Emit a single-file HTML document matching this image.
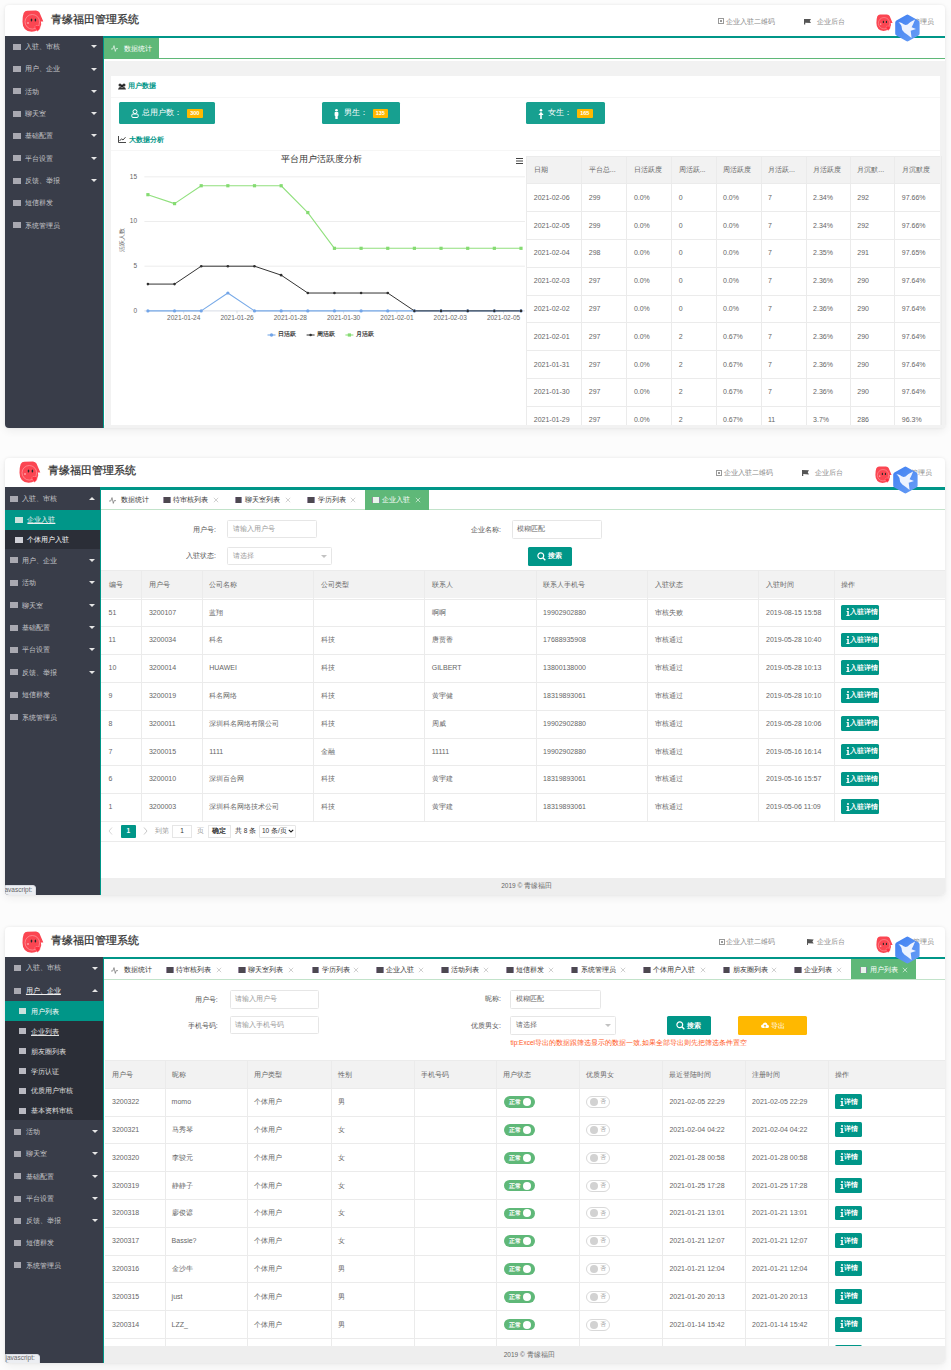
<!DOCTYPE html><html><head><meta charset="utf-8"><style>
html,body{margin:0;padding:0;}
body{width:951px;height:1370px;overflow:hidden;background:#fcfcfc;position:relative;font-family:"Liberation Sans",sans-serif;}
div,svg{position:absolute;box-sizing:border-box;}
.t{white-space:nowrap;}
</style></head><body>
<div style="left:5px;top:5px;width:940px;height:422.8px;background:#fff;border-radius:4px;box-shadow:0 0 3px rgba(0,0,0,.07),0 3px 9px rgba(0,0,0,.06);overflow:hidden">
</div>
<div style="left:5px;top:5px;width:940px;height:422.8px;overflow:hidden;border-radius:4px"><div style="left:-5px;top:-5px;width:951px;height:1370px">
<svg style="position:absolute;left:21.5px;top:9.8px;z-index:5" width="22.0" height="22.5" viewBox="0 0 22.0 22.5"><g transform="scale(1.0)"><path d="M1.7 2.9 Q3 0.8 5.2 0.7 L14 0.5 Q16.5 0.8 17.5 2.5 L21.3 11.4 L18.8 11.4 Q19.5 14 19 15.2 Q17 21.5 9.6 21.8 Q0.5 21 0.5 11.7 Q0.5 6 1.7 2.9 Z" fill="#fb4652"/><circle cx="10.3" cy="11.8" r="7.3" fill="none" stroke="#ff9ea3" stroke-width="0.7"/><ellipse cx="9.5" cy="10.1" rx="0.8" ry="1.5" fill="#2a2a2a"/><ellipse cx="13.4" cy="10.1" rx="0.8" ry="1.5" fill="#2a2a2a"/><circle cx="6" cy="13" r="1" fill="#ff9ea3"/><path d="M12.8 16.8 Q13.8 14.6 15.6 15.6 Q17.5 14.6 18.3 16.8 Q18.5 19 15.6 21.2 Q12.6 19 12.8 16.8 Z" fill="#ff2f40" stroke="#ff9ea3" stroke-width="0.5"/></g></svg>
<div class="t" style="left:51px;top:10.6px;height:17.6px;line-height:17.6px;font-size:11px;color:#333;text-align:left;-webkit-text-stroke:0.25px #333">青缘福田管理系统</div>
<div style="left:718px;top:18.4px;width:6px;height:6px;border:1px solid #999;background:linear-gradient(#999,#999) center/2px 2px no-repeat"></div>
<div class="t" style="left:726px;top:15.8px;height:11.2px;line-height:11.2px;font-size:7px;color:#888;text-align:left;">企业入驻二维码</div>
<div style="left:804px;top:18.599999999999998px;width:7px;height:6px;background:#555;clip-path:polygon(0 0,100% 8%,82% 40%,100% 75%,18% 68%,18% 100%,0 100%)"></div>
<div class="t" style="left:817px;top:15.8px;height:11.2px;line-height:11.2px;font-size:7px;color:#888;text-align:left;">企业后台</div>
<svg style="position:absolute;left:876px;top:14.2px;z-index:5" width="17.2" height="17.6" viewBox="0 0 17.2 17.6"><g transform="scale(0.78)"><path d="M1.7 2.9 Q3 0.8 5.2 0.7 L14 0.5 Q16.5 0.8 17.5 2.5 L21.3 11.4 L18.8 11.4 Q19.5 14 19 15.2 Q17 21.5 9.6 21.8 Q0.5 21 0.5 11.7 Q0.5 6 1.7 2.9 Z" fill="#fb4652"/><circle cx="10.3" cy="11.8" r="7.3" fill="none" stroke="#ff9ea3" stroke-width="0.7"/><ellipse cx="9.5" cy="10.1" rx="0.8" ry="1.5" fill="#2a2a2a"/><ellipse cx="13.4" cy="10.1" rx="0.8" ry="1.5" fill="#2a2a2a"/><circle cx="6" cy="13" r="1" fill="#ff9ea3"/><path d="M12.8 16.8 Q13.8 14.6 15.6 15.6 Q17.5 14.6 18.3 16.8 Q18.5 19 15.6 21.2 Q12.6 19 12.8 16.8 Z" fill="#ff2f40" stroke="#ff9ea3" stroke-width="0.5"/></g></svg>
<div class="t" style="left:634.3px;top:15.8px;width:300px;height:11.2px;line-height:11.2px;font-size:7px;color:#888;text-align:right;">管理员</div>
<svg style="position:absolute;left:894.7px;top:14.2px;z-index:6" width="25.0" height="28.0" viewBox="0 0 25.0 28.0"><defs><linearGradient id="bg" x1="0" y1="0" x2="1" y2="1"><stop offset="0" stop-color="#3f7ff2"/><stop offset="1" stop-color="#6a9ff5"/></linearGradient></defs><g transform="scale(1.0)"><path d="M11.2 0.9 Q12.4 0.2 13.6 0.9 L23.4 6.4 Q24.6 7.1 24.6 8.5 L24.6 19.5 Q24.6 20.9 23.4 21.6 L13.6 27.1 Q12.4 27.8 11.2 27.1 L1.4 21.6 Q0.2 20.9 0.2 19.5 L0.2 8.5 Q0.2 7.1 1.4 6.4 Z" fill="url(#bg)"/><path d="M3.4 8.2 Q5.5 8.3 6.8 9.1 Q8.5 10.5 10.6 11 L12.5 10.4 Q16 7.5 20.1 5.6 Q18.5 10 16.6 13.2 L21 15.1 L15.7 16.7 L16.6 23.9 Q12 20.5 9.3 18.6 Q6.5 16.5 6.8 14.1 Q6.8 11.8 5.6 10.4 Q4.7 9 3.4 8.2 Z" fill="#eef3ff"/></g></svg>
<div style="left:5px;top:35.7px;width:98px;height:400px;background:#393D49"></div>
<div style="left:102.8px;top:35.7px;width:1.3px;height:400px;background:#009688"></div>
<div style="left:104px;top:35.7px;width:841px;height:2.4px;background:#009688"></div>
<div style="left:104px;top:38.1px;width:841px;height:20.8px;background:#fff"></div>
<div style="left:104px;top:57.8px;width:841px;height:1.1px;background:#5FB878"></div>
<div style="left:104px;top:38.1px;width:55px;height:20.8px;background:#5FB878"></div>
<div style="left:105px;top:60.7px;width:840px;height:370px;background:#f2f2f2"></div>
<div style="left:111.2px;top:76px;width:829.3px;height:360px;background:#fff"></div>
<div style="left:12.8px;top:43.7px;width:8px;height:6px;background:#a9a9b1"></div>
<div class="t" style="left:25.1px;top:41.1px;height:11.2px;line-height:11.2px;font-size:7px;color:#c8c8cc;text-align:left;">入驻、审核</div>
<div style="left:91.3px;top:45.2px;width:0;height:0;border-left:3.5px solid transparent;border-right:3.5px solid transparent;border-top:3.5px solid #e6e6e6"></div>
<div style="left:12.8px;top:66.0px;width:8px;height:6px;background:#a9a9b1"></div>
<div class="t" style="left:25.1px;top:63.4px;height:11.2px;line-height:11.2px;font-size:7px;color:#c8c8cc;text-align:left;">用户、企业</div>
<div style="left:91.3px;top:67.5px;width:0;height:0;border-left:3.5px solid transparent;border-right:3.5px solid transparent;border-top:3.5px solid #e6e6e6"></div>
<div style="left:12.8px;top:88.30000000000001px;width:8px;height:6px;background:#a9a9b1"></div>
<div class="t" style="left:25.1px;top:85.7px;height:11.2px;line-height:11.2px;font-size:7px;color:#c8c8cc;text-align:left;">活动</div>
<div style="left:91.3px;top:89.80000000000001px;width:0;height:0;border-left:3.5px solid transparent;border-right:3.5px solid transparent;border-top:3.5px solid #e6e6e6"></div>
<div style="left:12.8px;top:110.60000000000001px;width:8px;height:6px;background:#a9a9b1"></div>
<div class="t" style="left:25.1px;top:108.0px;height:11.2px;line-height:11.2px;font-size:7px;color:#c8c8cc;text-align:left;">聊天室</div>
<div style="left:91.3px;top:112.10000000000001px;width:0;height:0;border-left:3.5px solid transparent;border-right:3.5px solid transparent;border-top:3.5px solid #e6e6e6"></div>
<div style="left:12.8px;top:132.9px;width:8px;height:6px;background:#a9a9b1"></div>
<div class="t" style="left:25.1px;top:130.3px;height:11.2px;line-height:11.2px;font-size:7px;color:#c8c8cc;text-align:left;">基础配置</div>
<div style="left:91.3px;top:134.4px;width:0;height:0;border-left:3.5px solid transparent;border-right:3.5px solid transparent;border-top:3.5px solid #e6e6e6"></div>
<div style="left:12.8px;top:155.2px;width:8px;height:6px;background:#a9a9b1"></div>
<div class="t" style="left:25.1px;top:152.6px;height:11.2px;line-height:11.2px;font-size:7px;color:#c8c8cc;text-align:left;">平台设置</div>
<div style="left:91.3px;top:156.7px;width:0;height:0;border-left:3.5px solid transparent;border-right:3.5px solid transparent;border-top:3.5px solid #e6e6e6"></div>
<div style="left:12.8px;top:177.5px;width:8px;height:6px;background:#a9a9b1"></div>
<div class="t" style="left:25.1px;top:174.9px;height:11.2px;line-height:11.2px;font-size:7px;color:#c8c8cc;text-align:left;">反馈、举报</div>
<div style="left:91.3px;top:179.0px;width:0;height:0;border-left:3.5px solid transparent;border-right:3.5px solid transparent;border-top:3.5px solid #e6e6e6"></div>
<div style="left:12.8px;top:199.8px;width:8px;height:6px;background:#a9a9b1"></div>
<div class="t" style="left:25.1px;top:197.2px;height:11.2px;line-height:11.2px;font-size:7px;color:#c8c8cc;text-align:left;">短信群发</div>
<div style="left:12.8px;top:222.10000000000002px;width:8px;height:6px;background:#a9a9b1"></div>
<div class="t" style="left:25.1px;top:219.5px;height:11.2px;line-height:11.2px;font-size:7px;color:#c8c8cc;text-align:left;">系统管理员</div>
</div></div>
<div style="left:5px;top:5px;width:940px;height:422.8px;overflow:hidden;border-radius:4px"><div style="left:-5px;top:-5px;width:951px;height:1370px">
<svg style="position:absolute;left:117.5px;top:82.5px" width="8" height="7" viewBox="0 0 8 7"><circle cx="2" cy="2" r="1.5" fill="#333"/><circle cx="6" cy="2" r="1.5" fill="#333"/><circle cx="4" cy="3" r="1.6" fill="#222"/><path d="M0 6.5 Q0.5 4 2 4 Q3 4 4 5 Q5 4 6 4 Q7.5 4 8 6.5 Z" fill="#333"/></svg>
<div class="t" style="left:127.5px;top:80.4px;height:11.2px;line-height:11.2px;font-size:7px;color:#009688;text-align:left;font-weight:bold">用户数据</div>
<div style="left:111.2px;top:97px;width:829.3px;height:1px;background:#f6f6f6"></div>
<div style="left:118.8px;top:102.2px;width:96.2px;height:21.6px;background:#17a090;border-radius:1.5px"></div>
<svg style="position:absolute;left:130.5px;top:108.5px" width="8" height="9" viewBox="0 0 8 9"><circle cx="4" cy="2.6" r="2" fill="none" stroke="#fff" stroke-width="1"/><rect x="0.8" y="5" width="6.4" height="3.5" rx="1.2" fill="none" stroke="#fff" stroke-width="1"/></svg>
<div class="t" style="left:142.2px;top:106.8px;height:12.8px;line-height:12.8px;font-size:8px;color:#fff;text-align:left;">总用户数：</div>
<div style="left:187px;top:108.9px;width:15.7px;height:9.4px;background:#FFB800;border-radius:1px"></div>
<div class="t" style="left:44.849999999999994px;top:109.2px;width:300px;height:8.8px;line-height:8.8px;font-size:5.5px;color:#fff;text-align:center;font-weight:bold">300</div>
<div style="left:322.2px;top:102.2px;width:78.30000000000001px;height:21.6px;background:#17a090;border-radius:1.5px"></div>
<svg style="position:absolute;left:334px;top:108.5px" width="5" height="10" viewBox="0 0 5 10"><circle cx="2.5" cy="1.3" r="1.3" fill="#fff"/><rect x="0.6" y="3" width="3.8" height="4" rx="0.8" fill="#fff"/><rect x="1.3" y="6" width="2.4" height="4" fill="#fff"/></svg>
<div class="t" style="left:343.5px;top:106.8px;height:12.8px;line-height:12.8px;font-size:8px;color:#fff;text-align:left;">男生：</div>
<div style="left:372.5px;top:108.9px;width:15.7px;height:9.4px;background:#FFB800;border-radius:1px"></div>
<div class="t" style="left:230.35000000000002px;top:109.2px;width:300px;height:8.8px;line-height:8.8px;font-size:5.5px;color:#fff;text-align:center;font-weight:bold">135</div>
<div style="left:526.3px;top:102.2px;width:78.70000000000005px;height:21.6px;background:#17a090;border-radius:1.5px"></div>
<svg style="position:absolute;left:538px;top:108.5px" width="6" height="10" viewBox="0 0 6 10"><circle cx="3" cy="1.3" r="1.3" fill="#fff"/><path d="M3 2.7 L5.6 6 L3.8 6 L3.8 10 L2.2 10 L2.2 6 L0.4 6 Z" fill="#fff"/></svg>
<div class="t" style="left:548px;top:106.8px;height:12.8px;line-height:12.8px;font-size:8px;color:#fff;text-align:left;">女生：</div>
<div style="left:577px;top:108.9px;width:15.7px;height:9.4px;background:#FFB800;border-radius:1px"></div>
<div class="t" style="left:434.85px;top:109.2px;width:300px;height:8.8px;line-height:8.8px;font-size:5.5px;color:#fff;text-align:center;font-weight:bold">165</div>
<svg style="position:absolute;left:118px;top:135.5px" width="8" height="7" viewBox="0 0 8 7"><path d="M0.5 0 L0.5 6.5 L8 6.5" fill="none" stroke="#333" stroke-width="0.9"/><path d="M1.5 5 L3.5 2.8 L5 4 L7.5 1.2" fill="none" stroke="#333" stroke-width="0.9"/></svg>
<div class="t" style="left:128.5px;top:134.0px;height:11.2px;line-height:11.2px;font-size:7px;color:#009688;text-align:left;font-weight:bold">大数据分析</div>
<div style="left:111.2px;top:149.7px;width:829.3px;height:1px;background:#f6f6f6"></div>
<svg style="position:absolute;left:0;top:0" width="951" height="430" viewBox="0 0 951 430"><line x1="144.4" y1="176.80" x2="525" y2="176.80" stroke="#e8e8e8" stroke-width="0.8"/><line x1="144.4" y1="221.50" x2="525" y2="221.50" stroke="#e8e8e8" stroke-width="0.8"/><line x1="144.4" y1="266.20" x2="525" y2="266.20" stroke="#e8e8e8" stroke-width="0.8"/><line x1="144.4" y1="310.90" x2="525" y2="310.90" stroke="#cdd3e0" stroke-width="0.8"/><line x1="183.7" y1="310.90" x2="183.7" y2="313.40" stroke="#cdd3e0" stroke-width="0.7"/><line x1="237" y1="310.90" x2="237" y2="313.40" stroke="#cdd3e0" stroke-width="0.7"/><line x1="290.3" y1="310.90" x2="290.3" y2="313.40" stroke="#cdd3e0" stroke-width="0.7"/><line x1="343.6" y1="310.90" x2="343.6" y2="313.40" stroke="#cdd3e0" stroke-width="0.7"/><line x1="396.9" y1="310.90" x2="396.9" y2="313.40" stroke="#cdd3e0" stroke-width="0.7"/><line x1="450.2" y1="310.90" x2="450.2" y2="313.40" stroke="#cdd3e0" stroke-width="0.7"/><line x1="503.5" y1="310.90" x2="503.5" y2="313.40" stroke="#cdd3e0" stroke-width="0.7"/><polyline points="147.90,194.68 174.55,203.62 201.20,185.74 227.85,185.74 254.50,185.74 281.15,185.74 307.80,212.56 334.45,248.32 361.10,248.32 387.75,248.32 414.40,248.32 441.05,248.32 467.70,248.32 494.35,248.32 521.00,248.32" fill="none" stroke="#91e07e" stroke-width="1.1" stroke-linejoin="round"/><polyline points="147.90,310.90 174.55,310.90 201.20,310.90 227.85,293.02 254.50,310.90 281.15,310.90 307.80,310.90 334.45,310.90 361.10,310.90 387.75,310.90 414.40,310.90 441.05,310.90 467.70,310.90 494.35,310.90 521.00,310.90" fill="none" stroke="#78aae8" stroke-width="1.1" stroke-linejoin="round"/><polyline points="147.90,284.08 174.55,284.08 201.20,266.20 227.85,266.20 254.50,266.20 281.15,275.14 307.80,293.02 334.45,293.02 361.10,293.02 387.75,293.02 414.40,310.90 441.05,310.90 467.70,310.90 494.35,310.90 521.00,310.90" fill="none" stroke="#333" stroke-width="1.0" stroke-linejoin="round"/><rect x="146.30" y="193.08" width="3.2" height="3.2" fill="#85db72"/><rect x="172.95" y="202.02" width="3.2" height="3.2" fill="#85db72"/><rect x="199.60" y="184.14" width="3.2" height="3.2" fill="#85db72"/><rect x="226.25" y="184.14" width="3.2" height="3.2" fill="#85db72"/><rect x="252.90" y="184.14" width="3.2" height="3.2" fill="#85db72"/><rect x="279.55" y="184.14" width="3.2" height="3.2" fill="#85db72"/><rect x="306.20" y="210.96" width="3.2" height="3.2" fill="#85db72"/><rect x="332.85" y="246.72" width="3.2" height="3.2" fill="#85db72"/><rect x="359.50" y="246.72" width="3.2" height="3.2" fill="#85db72"/><rect x="386.15" y="246.72" width="3.2" height="3.2" fill="#85db72"/><rect x="412.80" y="246.72" width="3.2" height="3.2" fill="#85db72"/><rect x="439.45" y="246.72" width="3.2" height="3.2" fill="#85db72"/><rect x="466.10" y="246.72" width="3.2" height="3.2" fill="#85db72"/><rect x="492.75" y="246.72" width="3.2" height="3.2" fill="#85db72"/><rect x="519.40" y="246.72" width="3.2" height="3.2" fill="#85db72"/><circle cx="147.90" cy="310.90" r="1.6" fill="#73a5e8"/><circle cx="174.55" cy="310.90" r="1.6" fill="#73a5e8"/><circle cx="201.20" cy="310.90" r="1.6" fill="#73a5e8"/><circle cx="227.85" cy="293.02" r="1.6" fill="#73a5e8"/><circle cx="254.50" cy="310.90" r="1.6" fill="#73a5e8"/><circle cx="281.15" cy="310.90" r="1.6" fill="#73a5e8"/><circle cx="307.80" cy="310.90" r="1.6" fill="#73a5e8"/><circle cx="334.45" cy="310.90" r="1.6" fill="#73a5e8"/><circle cx="361.10" cy="310.90" r="1.6" fill="#73a5e8"/><circle cx="387.75" cy="310.90" r="1.6" fill="#73a5e8"/><circle cx="414.40" cy="310.90" r="1.6" fill="#73a5e8"/><circle cx="441.05" cy="310.90" r="1.6" fill="#73a5e8"/><circle cx="467.70" cy="310.90" r="1.6" fill="#73a5e8"/><circle cx="494.35" cy="310.90" r="1.6" fill="#73a5e8"/><circle cx="521.00" cy="310.90" r="1.6" fill="#73a5e8"/><circle cx="147.90" cy="284.08" r="1.3" fill="#2f2f2f"/><circle cx="174.55" cy="284.08" r="1.3" fill="#2f2f2f"/><circle cx="201.20" cy="266.20" r="1.3" fill="#2f2f2f"/><circle cx="227.85" cy="266.20" r="1.3" fill="#2f2f2f"/><circle cx="254.50" cy="266.20" r="1.3" fill="#2f2f2f"/><circle cx="281.15" cy="275.14" r="1.3" fill="#2f2f2f"/><circle cx="307.80" cy="293.02" r="1.3" fill="#2f2f2f"/><circle cx="334.45" cy="293.02" r="1.3" fill="#2f2f2f"/><circle cx="361.10" cy="293.02" r="1.3" fill="#2f2f2f"/><circle cx="387.75" cy="293.02" r="1.3" fill="#2f2f2f"/><circle cx="414.40" cy="310.90" r="1.3" fill="#2f2f2f"/><circle cx="441.05" cy="310.90" r="1.3" fill="#2f2f2f"/><circle cx="467.70" cy="310.90" r="1.3" fill="#2f2f2f"/><circle cx="494.35" cy="310.90" r="1.3" fill="#2f2f2f"/><circle cx="521.00" cy="310.90" r="1.3" fill="#2f2f2f"/><line x1="267.5" y1="335" x2="275.5" y2="335" stroke="#78aae8" stroke-width="1.1"/><circle cx="271.5" cy="335" r="1.7" fill="#73a5e8"/><line x1="306.6" y1="335" x2="314.6" y2="335" stroke="#333" stroke-width="1"/><circle cx="310.6" cy="335" r="1.3" fill="#2f2f2f"/><line x1="345.4" y1="335" x2="353.4" y2="335" stroke="#91e07e" stroke-width="1.1"/><rect x="347.8" y="333.4" width="3.2" height="3.2" fill="#85db72"/><rect x="516" y="158" width="7" height="1" fill="#444"/><rect x="516" y="160.5" width="7" height="1" fill="#444"/><rect x="516" y="163" width="7" height="1" fill="#444"/></svg>
<div class="t" style="left:280.7px;top:152.4px;height:14.4px;line-height:14.4px;font-size:9px;color:#333;text-align:left;">平台用户活跃度分析</div>
<div class="t" style="left:-163px;top:171.6px;width:300px;height:10.4px;line-height:10.4px;font-size:6.5px;color:#666;text-align:right;">15</div>
<div class="t" style="left:-163px;top:216.3px;width:300px;height:10.4px;line-height:10.4px;font-size:6.5px;color:#666;text-align:right;">10</div>
<div class="t" style="left:-163px;top:261.0px;width:300px;height:10.4px;line-height:10.4px;font-size:6.5px;color:#666;text-align:right;">5</div>
<div class="t" style="left:-163px;top:305.7px;width:300px;height:10.4px;line-height:10.4px;font-size:6.5px;color:#666;text-align:right;">0</div>
<div class="t" style="left:33.69999999999999px;top:312.6px;width:300px;height:10.4px;line-height:10.4px;font-size:6.5px;color:#666;text-align:center;">2021-01-24</div>
<div class="t" style="left:87px;top:312.6px;width:300px;height:10.4px;line-height:10.4px;font-size:6.5px;color:#666;text-align:center;">2021-01-26</div>
<div class="t" style="left:140.3px;top:312.6px;width:300px;height:10.4px;line-height:10.4px;font-size:6.5px;color:#666;text-align:center;">2021-01-28</div>
<div class="t" style="left:193.60000000000002px;top:312.6px;width:300px;height:10.4px;line-height:10.4px;font-size:6.5px;color:#666;text-align:center;">2021-01-30</div>
<div class="t" style="left:246.89999999999998px;top:312.6px;width:300px;height:10.4px;line-height:10.4px;font-size:6.5px;color:#666;text-align:center;">2021-02-01</div>
<div class="t" style="left:300.2px;top:312.6px;width:300px;height:10.4px;line-height:10.4px;font-size:6.5px;color:#666;text-align:center;">2021-02-03</div>
<div class="t" style="left:353.5px;top:312.6px;width:300px;height:10.4px;line-height:10.4px;font-size:6.5px;color:#666;text-align:center;">2021-02-05</div>
<div class="t" style="left:278px;top:330.2px;height:9.6px;line-height:9.6px;font-size:6px;color:#333;text-align:left;font-weight:bold">日活跃</div>
<div class="t" style="left:316.5px;top:330.2px;height:9.6px;line-height:9.6px;font-size:6px;color:#333;text-align:left;font-weight:bold">周活跃</div>
<div class="t" style="left:356px;top:330.2px;height:9.6px;line-height:9.6px;font-size:6px;color:#333;text-align:left;font-weight:bold">月活跃</div>
<div class="t" style="left:92px;top:236px;width:60px;height:8px;line-height:8px;font-size:5.5px;color:#666;text-align:center;transform:rotate(-90deg)">活跃人数</div>
<div style="left:526.3px;top:155.6px;width:414.20000000000005px;height:27.8px;background:#f2f2f2"></div>
<div style="left:526.3px;top:155.6px;width:414.20000000000005px;height:1px;background:#ebebeb"></div>
<div style="left:526.3px;top:183.4px;width:414.20000000000005px;height:1px;background:#ebebeb"></div>
<div style="left:526.3px;top:211.2px;width:414.20000000000005px;height:1px;background:#ebebeb"></div>
<div style="left:526.3px;top:239.0px;width:414.20000000000005px;height:1px;background:#ebebeb"></div>
<div style="left:526.3px;top:266.8px;width:414.20000000000005px;height:1px;background:#ebebeb"></div>
<div style="left:526.3px;top:294.6px;width:414.20000000000005px;height:1px;background:#ebebeb"></div>
<div style="left:526.3px;top:322.4px;width:414.20000000000005px;height:1px;background:#ebebeb"></div>
<div style="left:526.3px;top:350.2px;width:414.20000000000005px;height:1px;background:#ebebeb"></div>
<div style="left:526.3px;top:378.0px;width:414.20000000000005px;height:1px;background:#ebebeb"></div>
<div style="left:526.3px;top:405.8px;width:414.20000000000005px;height:1px;background:#ebebeb"></div>
<div style="left:526.3px;top:433.6px;width:414.20000000000005px;height:1px;background:#ebebeb"></div>
<div style="left:526.3px;top:155.6px;width:1px;height:300px;background:#ebebeb"></div>
<div style="left:581.3px;top:155.6px;width:1px;height:300px;background:#ebebeb"></div>
<div style="left:626.4px;top:155.6px;width:1px;height:300px;background:#ebebeb"></div>
<div style="left:671.2px;top:155.6px;width:1px;height:300px;background:#ebebeb"></div>
<div style="left:715.5px;top:155.6px;width:1px;height:300px;background:#ebebeb"></div>
<div style="left:760.5px;top:155.6px;width:1px;height:300px;background:#ebebeb"></div>
<div style="left:805.6px;top:155.6px;width:1px;height:300px;background:#ebebeb"></div>
<div style="left:849.8px;top:155.6px;width:1px;height:300px;background:#ebebeb"></div>
<div style="left:894.3px;top:155.6px;width:1px;height:300px;background:#ebebeb"></div>
<div style="left:940.5px;top:155.6px;width:1px;height:300px;background:#ebebeb"></div>
<div class="t" style="left:533.8px;top:163.9px;height:11.2px;line-height:11.2px;font-size:7px;color:#666;text-align:left;">日期</div>
<div class="t" style="left:588.8px;top:163.9px;height:11.2px;line-height:11.2px;font-size:7px;color:#666;text-align:left;">平台总...</div>
<div class="t" style="left:633.9px;top:163.9px;height:11.2px;line-height:11.2px;font-size:7px;color:#666;text-align:left;">日活跃度</div>
<div class="t" style="left:678.7px;top:163.9px;height:11.2px;line-height:11.2px;font-size:7px;color:#666;text-align:left;">周活跃...</div>
<div class="t" style="left:723.0px;top:163.9px;height:11.2px;line-height:11.2px;font-size:7px;color:#666;text-align:left;">周活跃度</div>
<div class="t" style="left:768.0px;top:163.9px;height:11.2px;line-height:11.2px;font-size:7px;color:#666;text-align:left;">月活跃...</div>
<div class="t" style="left:813.1px;top:163.9px;height:11.2px;line-height:11.2px;font-size:7px;color:#666;text-align:left;">月活跃度</div>
<div class="t" style="left:857.3px;top:163.9px;height:11.2px;line-height:11.2px;font-size:7px;color:#666;text-align:left;">月沉默...</div>
<div class="t" style="left:901.8px;top:163.9px;height:11.2px;line-height:11.2px;font-size:7px;color:#666;text-align:left;">月沉默度</div>
<div class="t" style="left:533.8px;top:191.7px;height:11.2px;line-height:11.2px;font-size:7px;color:#666;text-align:left;">2021-02-06</div>
<div class="t" style="left:588.8px;top:191.7px;height:11.2px;line-height:11.2px;font-size:7px;color:#666;text-align:left;">299</div>
<div class="t" style="left:633.9px;top:191.7px;height:11.2px;line-height:11.2px;font-size:7px;color:#666;text-align:left;">0.0%</div>
<div class="t" style="left:678.7px;top:191.7px;height:11.2px;line-height:11.2px;font-size:7px;color:#666;text-align:left;">0</div>
<div class="t" style="left:723.0px;top:191.7px;height:11.2px;line-height:11.2px;font-size:7px;color:#666;text-align:left;">0.0%</div>
<div class="t" style="left:768.0px;top:191.7px;height:11.2px;line-height:11.2px;font-size:7px;color:#666;text-align:left;">7</div>
<div class="t" style="left:813.1px;top:191.7px;height:11.2px;line-height:11.2px;font-size:7px;color:#666;text-align:left;">2.34%</div>
<div class="t" style="left:857.3px;top:191.7px;height:11.2px;line-height:11.2px;font-size:7px;color:#666;text-align:left;">292</div>
<div class="t" style="left:901.8px;top:191.7px;height:11.2px;line-height:11.2px;font-size:7px;color:#666;text-align:left;">97.66%</div>
<div class="t" style="left:533.8px;top:219.5px;height:11.2px;line-height:11.2px;font-size:7px;color:#666;text-align:left;">2021-02-05</div>
<div class="t" style="left:588.8px;top:219.5px;height:11.2px;line-height:11.2px;font-size:7px;color:#666;text-align:left;">299</div>
<div class="t" style="left:633.9px;top:219.5px;height:11.2px;line-height:11.2px;font-size:7px;color:#666;text-align:left;">0.0%</div>
<div class="t" style="left:678.7px;top:219.5px;height:11.2px;line-height:11.2px;font-size:7px;color:#666;text-align:left;">0</div>
<div class="t" style="left:723.0px;top:219.5px;height:11.2px;line-height:11.2px;font-size:7px;color:#666;text-align:left;">0.0%</div>
<div class="t" style="left:768.0px;top:219.5px;height:11.2px;line-height:11.2px;font-size:7px;color:#666;text-align:left;">7</div>
<div class="t" style="left:813.1px;top:219.5px;height:11.2px;line-height:11.2px;font-size:7px;color:#666;text-align:left;">2.34%</div>
<div class="t" style="left:857.3px;top:219.5px;height:11.2px;line-height:11.2px;font-size:7px;color:#666;text-align:left;">292</div>
<div class="t" style="left:901.8px;top:219.5px;height:11.2px;line-height:11.2px;font-size:7px;color:#666;text-align:left;">97.66%</div>
<div class="t" style="left:533.8px;top:247.3px;height:11.2px;line-height:11.2px;font-size:7px;color:#666;text-align:left;">2021-02-04</div>
<div class="t" style="left:588.8px;top:247.3px;height:11.2px;line-height:11.2px;font-size:7px;color:#666;text-align:left;">298</div>
<div class="t" style="left:633.9px;top:247.3px;height:11.2px;line-height:11.2px;font-size:7px;color:#666;text-align:left;">0.0%</div>
<div class="t" style="left:678.7px;top:247.3px;height:11.2px;line-height:11.2px;font-size:7px;color:#666;text-align:left;">0</div>
<div class="t" style="left:723.0px;top:247.3px;height:11.2px;line-height:11.2px;font-size:7px;color:#666;text-align:left;">0.0%</div>
<div class="t" style="left:768.0px;top:247.3px;height:11.2px;line-height:11.2px;font-size:7px;color:#666;text-align:left;">7</div>
<div class="t" style="left:813.1px;top:247.3px;height:11.2px;line-height:11.2px;font-size:7px;color:#666;text-align:left;">2.35%</div>
<div class="t" style="left:857.3px;top:247.3px;height:11.2px;line-height:11.2px;font-size:7px;color:#666;text-align:left;">291</div>
<div class="t" style="left:901.8px;top:247.3px;height:11.2px;line-height:11.2px;font-size:7px;color:#666;text-align:left;">97.65%</div>
<div class="t" style="left:533.8px;top:275.1px;height:11.2px;line-height:11.2px;font-size:7px;color:#666;text-align:left;">2021-02-03</div>
<div class="t" style="left:588.8px;top:275.1px;height:11.2px;line-height:11.2px;font-size:7px;color:#666;text-align:left;">297</div>
<div class="t" style="left:633.9px;top:275.1px;height:11.2px;line-height:11.2px;font-size:7px;color:#666;text-align:left;">0.0%</div>
<div class="t" style="left:678.7px;top:275.1px;height:11.2px;line-height:11.2px;font-size:7px;color:#666;text-align:left;">0</div>
<div class="t" style="left:723.0px;top:275.1px;height:11.2px;line-height:11.2px;font-size:7px;color:#666;text-align:left;">0.0%</div>
<div class="t" style="left:768.0px;top:275.1px;height:11.2px;line-height:11.2px;font-size:7px;color:#666;text-align:left;">7</div>
<div class="t" style="left:813.1px;top:275.1px;height:11.2px;line-height:11.2px;font-size:7px;color:#666;text-align:left;">2.36%</div>
<div class="t" style="left:857.3px;top:275.1px;height:11.2px;line-height:11.2px;font-size:7px;color:#666;text-align:left;">290</div>
<div class="t" style="left:901.8px;top:275.1px;height:11.2px;line-height:11.2px;font-size:7px;color:#666;text-align:left;">97.64%</div>
<div class="t" style="left:533.8px;top:302.9px;height:11.2px;line-height:11.2px;font-size:7px;color:#666;text-align:left;">2021-02-02</div>
<div class="t" style="left:588.8px;top:302.9px;height:11.2px;line-height:11.2px;font-size:7px;color:#666;text-align:left;">297</div>
<div class="t" style="left:633.9px;top:302.9px;height:11.2px;line-height:11.2px;font-size:7px;color:#666;text-align:left;">0.0%</div>
<div class="t" style="left:678.7px;top:302.9px;height:11.2px;line-height:11.2px;font-size:7px;color:#666;text-align:left;">0</div>
<div class="t" style="left:723.0px;top:302.9px;height:11.2px;line-height:11.2px;font-size:7px;color:#666;text-align:left;">0.0%</div>
<div class="t" style="left:768.0px;top:302.9px;height:11.2px;line-height:11.2px;font-size:7px;color:#666;text-align:left;">7</div>
<div class="t" style="left:813.1px;top:302.9px;height:11.2px;line-height:11.2px;font-size:7px;color:#666;text-align:left;">2.36%</div>
<div class="t" style="left:857.3px;top:302.9px;height:11.2px;line-height:11.2px;font-size:7px;color:#666;text-align:left;">290</div>
<div class="t" style="left:901.8px;top:302.9px;height:11.2px;line-height:11.2px;font-size:7px;color:#666;text-align:left;">97.64%</div>
<div class="t" style="left:533.8px;top:330.7px;height:11.2px;line-height:11.2px;font-size:7px;color:#666;text-align:left;">2021-02-01</div>
<div class="t" style="left:588.8px;top:330.7px;height:11.2px;line-height:11.2px;font-size:7px;color:#666;text-align:left;">297</div>
<div class="t" style="left:633.9px;top:330.7px;height:11.2px;line-height:11.2px;font-size:7px;color:#666;text-align:left;">0.0%</div>
<div class="t" style="left:678.7px;top:330.7px;height:11.2px;line-height:11.2px;font-size:7px;color:#666;text-align:left;">2</div>
<div class="t" style="left:723.0px;top:330.7px;height:11.2px;line-height:11.2px;font-size:7px;color:#666;text-align:left;">0.67%</div>
<div class="t" style="left:768.0px;top:330.7px;height:11.2px;line-height:11.2px;font-size:7px;color:#666;text-align:left;">7</div>
<div class="t" style="left:813.1px;top:330.7px;height:11.2px;line-height:11.2px;font-size:7px;color:#666;text-align:left;">2.36%</div>
<div class="t" style="left:857.3px;top:330.7px;height:11.2px;line-height:11.2px;font-size:7px;color:#666;text-align:left;">290</div>
<div class="t" style="left:901.8px;top:330.7px;height:11.2px;line-height:11.2px;font-size:7px;color:#666;text-align:left;">97.64%</div>
<div class="t" style="left:533.8px;top:358.5px;height:11.2px;line-height:11.2px;font-size:7px;color:#666;text-align:left;">2021-01-31</div>
<div class="t" style="left:588.8px;top:358.5px;height:11.2px;line-height:11.2px;font-size:7px;color:#666;text-align:left;">297</div>
<div class="t" style="left:633.9px;top:358.5px;height:11.2px;line-height:11.2px;font-size:7px;color:#666;text-align:left;">0.0%</div>
<div class="t" style="left:678.7px;top:358.5px;height:11.2px;line-height:11.2px;font-size:7px;color:#666;text-align:left;">2</div>
<div class="t" style="left:723.0px;top:358.5px;height:11.2px;line-height:11.2px;font-size:7px;color:#666;text-align:left;">0.67%</div>
<div class="t" style="left:768.0px;top:358.5px;height:11.2px;line-height:11.2px;font-size:7px;color:#666;text-align:left;">7</div>
<div class="t" style="left:813.1px;top:358.5px;height:11.2px;line-height:11.2px;font-size:7px;color:#666;text-align:left;">2.36%</div>
<div class="t" style="left:857.3px;top:358.5px;height:11.2px;line-height:11.2px;font-size:7px;color:#666;text-align:left;">290</div>
<div class="t" style="left:901.8px;top:358.5px;height:11.2px;line-height:11.2px;font-size:7px;color:#666;text-align:left;">97.64%</div>
<div class="t" style="left:533.8px;top:386.3px;height:11.2px;line-height:11.2px;font-size:7px;color:#666;text-align:left;">2021-01-30</div>
<div class="t" style="left:588.8px;top:386.3px;height:11.2px;line-height:11.2px;font-size:7px;color:#666;text-align:left;">297</div>
<div class="t" style="left:633.9px;top:386.3px;height:11.2px;line-height:11.2px;font-size:7px;color:#666;text-align:left;">0.0%</div>
<div class="t" style="left:678.7px;top:386.3px;height:11.2px;line-height:11.2px;font-size:7px;color:#666;text-align:left;">2</div>
<div class="t" style="left:723.0px;top:386.3px;height:11.2px;line-height:11.2px;font-size:7px;color:#666;text-align:left;">0.67%</div>
<div class="t" style="left:768.0px;top:386.3px;height:11.2px;line-height:11.2px;font-size:7px;color:#666;text-align:left;">7</div>
<div class="t" style="left:813.1px;top:386.3px;height:11.2px;line-height:11.2px;font-size:7px;color:#666;text-align:left;">2.36%</div>
<div class="t" style="left:857.3px;top:386.3px;height:11.2px;line-height:11.2px;font-size:7px;color:#666;text-align:left;">290</div>
<div class="t" style="left:901.8px;top:386.3px;height:11.2px;line-height:11.2px;font-size:7px;color:#666;text-align:left;">97.64%</div>
<div class="t" style="left:533.8px;top:414.1px;height:11.2px;line-height:11.2px;font-size:7px;color:#666;text-align:left;">2021-01-29</div>
<div class="t" style="left:588.8px;top:414.1px;height:11.2px;line-height:11.2px;font-size:7px;color:#666;text-align:left;">297</div>
<div class="t" style="left:633.9px;top:414.1px;height:11.2px;line-height:11.2px;font-size:7px;color:#666;text-align:left;">0.0%</div>
<div class="t" style="left:678.7px;top:414.1px;height:11.2px;line-height:11.2px;font-size:7px;color:#666;text-align:left;">2</div>
<div class="t" style="left:723.0px;top:414.1px;height:11.2px;line-height:11.2px;font-size:7px;color:#666;text-align:left;">0.67%</div>
<div class="t" style="left:768.0px;top:414.1px;height:11.2px;line-height:11.2px;font-size:7px;color:#666;text-align:left;">11</div>
<div class="t" style="left:813.1px;top:414.1px;height:11.2px;line-height:11.2px;font-size:7px;color:#666;text-align:left;">3.7%</div>
<div class="t" style="left:857.3px;top:414.1px;height:11.2px;line-height:11.2px;font-size:7px;color:#666;text-align:left;">286</div>
<div class="t" style="left:901.8px;top:414.1px;height:11.2px;line-height:11.2px;font-size:7px;color:#666;text-align:left;">96.3%</div>
<div style="left:104px;top:425.2px;width:841px;height:10px;background:#f2f2f2"></div>
</div></div>
<div style="left:5px;top:5px;width:940px;height:422.8px;overflow:hidden;border-radius:4px"><div style="left:-5px;top:-5px;width:951px;height:1370px">
<svg style="position:absolute;left:110.8px;top:44.5px" width="7" height="7" viewBox="0 0 7 7"><path d="M0 4 L1.8 4 L3 0.6 L4.3 6.4 L5.2 3.6 L7 3.6" fill="none" stroke="#fff" stroke-width="0.65"/></svg>
<div class="t" style="left:124px;top:43.2px;height:11.2px;line-height:11.2px;font-size:7px;color:#fff;text-align:left;">数据统计</div>
</div></div>
<div style="left:5px;top:457.7px;width:940px;height:437.1px;background:#fff;border-radius:4px;box-shadow:0 0 3px rgba(0,0,0,.07),0 3px 9px rgba(0,0,0,.06);overflow:hidden">
</div>
<div style="left:5px;top:457.7px;width:940px;height:437.1px;overflow:hidden;border-radius:4px"><div style="left:-5px;top:-457.7px;width:951px;height:1370px">
<svg style="position:absolute;left:19px;top:461.2px;z-index:5" width="22.0" height="22.5" viewBox="0 0 22.0 22.5"><g transform="scale(1.0)"><path d="M1.7 2.9 Q3 0.8 5.2 0.7 L14 0.5 Q16.5 0.8 17.5 2.5 L21.3 11.4 L18.8 11.4 Q19.5 14 19 15.2 Q17 21.5 9.6 21.8 Q0.5 21 0.5 11.7 Q0.5 6 1.7 2.9 Z" fill="#fb4652"/><circle cx="10.3" cy="11.8" r="7.3" fill="none" stroke="#ff9ea3" stroke-width="0.7"/><ellipse cx="9.5" cy="10.1" rx="0.8" ry="1.5" fill="#2a2a2a"/><ellipse cx="13.4" cy="10.1" rx="0.8" ry="1.5" fill="#2a2a2a"/><circle cx="6" cy="13" r="1" fill="#ff9ea3"/><path d="M12.8 16.8 Q13.8 14.6 15.6 15.6 Q17.5 14.6 18.3 16.8 Q18.5 19 15.6 21.2 Q12.6 19 12.8 16.8 Z" fill="#ff2f40" stroke="#ff9ea3" stroke-width="0.5"/></g></svg>
<div class="t" style="left:47.7px;top:462.3px;height:17.6px;line-height:17.6px;font-size:11px;color:#333;text-align:left;-webkit-text-stroke:0.25px #333">青缘福田管理系统</div>
<div style="left:715.8px;top:469.7px;width:6px;height:6px;border:1px solid #999;background:linear-gradient(#999,#999) center/2px 2px no-repeat"></div>
<div class="t" style="left:723.8px;top:467.1px;height:11.2px;line-height:11.2px;font-size:7px;color:#888;text-align:left;">企业入驻二维码</div>
<div style="left:802px;top:469.9px;width:7px;height:6px;background:#555;clip-path:polygon(0 0,100% 8%,82% 40%,100% 75%,18% 68%,18% 100%,0 100%)"></div>
<div class="t" style="left:814.8px;top:467.1px;height:11.2px;line-height:11.2px;font-size:7px;color:#888;text-align:left;">企业后台</div>
<svg style="position:absolute;left:874.7px;top:465.6px;z-index:5" width="17.2" height="17.6" viewBox="0 0 17.2 17.6"><g transform="scale(0.78)"><path d="M1.7 2.9 Q3 0.8 5.2 0.7 L14 0.5 Q16.5 0.8 17.5 2.5 L21.3 11.4 L18.8 11.4 Q19.5 14 19 15.2 Q17 21.5 9.6 21.8 Q0.5 21 0.5 11.7 Q0.5 6 1.7 2.9 Z" fill="#fb4652"/><circle cx="10.3" cy="11.8" r="7.3" fill="none" stroke="#ff9ea3" stroke-width="0.7"/><ellipse cx="9.5" cy="10.1" rx="0.8" ry="1.5" fill="#2a2a2a"/><ellipse cx="13.4" cy="10.1" rx="0.8" ry="1.5" fill="#2a2a2a"/><circle cx="6" cy="13" r="1" fill="#ff9ea3"/><path d="M12.8 16.8 Q13.8 14.6 15.6 15.6 Q17.5 14.6 18.3 16.8 Q18.5 19 15.6 21.2 Q12.6 19 12.8 16.8 Z" fill="#ff2f40" stroke="#ff9ea3" stroke-width="0.5"/></g></svg>
<div class="t" style="left:632.2px;top:467.1px;width:300px;height:11.2px;line-height:11.2px;font-size:7px;color:#888;text-align:right;">管理员</div>
<svg style="position:absolute;left:892.6px;top:466px;z-index:6" width="25.0" height="28.0" viewBox="0 0 25.0 28.0"><defs><linearGradient id="bg" x1="0" y1="0" x2="1" y2="1"><stop offset="0" stop-color="#3f7ff2"/><stop offset="1" stop-color="#6a9ff5"/></linearGradient></defs><g transform="scale(1.0)"><path d="M11.2 0.9 Q12.4 0.2 13.6 0.9 L23.4 6.4 Q24.6 7.1 24.6 8.5 L24.6 19.5 Q24.6 20.9 23.4 21.6 L13.6 27.1 Q12.4 27.8 11.2 27.1 L1.4 21.6 Q0.2 20.9 0.2 19.5 L0.2 8.5 Q0.2 7.1 1.4 6.4 Z" fill="url(#bg)"/><path d="M3.4 8.2 Q5.5 8.3 6.8 9.1 Q8.5 10.5 10.6 11 L12.5 10.4 Q16 7.5 20.1 5.6 Q18.5 10 16.6 13.2 L21 15.1 L15.7 16.7 L16.6 23.9 Q12 20.5 9.3 18.6 Q6.5 16.5 6.8 14.1 Q6.8 11.8 5.6 10.4 Q4.7 9 3.4 8.2 Z" fill="#eef3ff"/></g></svg>
<div style="left:5px;top:487.2px;width:95px;height:420px;background:#393D49"></div>
<div style="left:100px;top:487.2px;width:1.1px;height:420px;background:#009688"></div>
<div style="left:101px;top:487.2px;width:844px;height:2.4px;background:#009688"></div>
<div style="left:101px;top:509.3px;width:844px;height:0.9px;background:#c2e3ca"></div>
<div style="left:5px;top:509.6px;width:95px;height:20.1px;background:#009688"></div>
<div style="left:5px;top:529.7px;width:95px;height:19.5px;background:#2b2e37"></div>
<div style="left:10px;top:495.7px;width:7.7px;height:6px;background:#a9a9b1"></div>
<div class="t" style="left:21.9px;top:493.1px;height:11.2px;line-height:11.2px;font-size:7px;color:#c8c8cc;text-align:left;">入驻、审核</div>
<div style="left:88.6px;top:496.7px;width:0;height:0;border-left:3.5px solid transparent;border-right:3.5px solid transparent;border-bottom:3.5px solid #e6e6e6"></div>
<div style="left:15.1px;top:516.7px;width:7.7px;height:6px;background:#c9e2dd"></div>
<div class="t" style="left:27.4px;top:514.1px;height:11.2px;line-height:11.2px;font-size:7px;color:#f0f0f0;text-align:left;text-decoration:underline;text-decoration-thickness:0.5px;text-underline-offset:1px">企业入驻</div>
<div style="left:15.1px;top:537.0px;width:7.7px;height:6px;background:#cfcfd6"></div>
<div class="t" style="left:27.4px;top:534.4px;height:11.2px;line-height:11.2px;font-size:7px;color:#fff;text-align:left;">个体用户入驻</div>
<div style="left:10px;top:557.3px;width:7.7px;height:6px;background:#a9a9b1"></div>
<div class="t" style="left:21.9px;top:554.7px;height:11.2px;line-height:11.2px;font-size:7px;color:#c8c8cc;text-align:left;">用户、企业</div>
<div style="left:88.6px;top:558.8px;width:0;height:0;border-left:3.5px solid transparent;border-right:3.5px solid transparent;border-top:3.5px solid #e6e6e6"></div>
<div style="left:10px;top:579.6999999999999px;width:7.7px;height:6px;background:#a9a9b1"></div>
<div class="t" style="left:21.9px;top:577.1px;height:11.2px;line-height:11.2px;font-size:7px;color:#c8c8cc;text-align:left;">活动</div>
<div style="left:88.6px;top:581.1999999999999px;width:0;height:0;border-left:3.5px solid transparent;border-right:3.5px solid transparent;border-top:3.5px solid #e6e6e6"></div>
<div style="left:10px;top:602.0999999999999px;width:7.7px;height:6px;background:#a9a9b1"></div>
<div class="t" style="left:21.9px;top:599.5px;height:11.2px;line-height:11.2px;font-size:7px;color:#c8c8cc;text-align:left;">聊天室</div>
<div style="left:88.6px;top:603.5999999999999px;width:0;height:0;border-left:3.5px solid transparent;border-right:3.5px solid transparent;border-top:3.5px solid #e6e6e6"></div>
<div style="left:10px;top:624.5px;width:7.7px;height:6px;background:#a9a9b1"></div>
<div class="t" style="left:21.9px;top:621.9px;height:11.2px;line-height:11.2px;font-size:7px;color:#c8c8cc;text-align:left;">基础配置</div>
<div style="left:88.6px;top:626.0px;width:0;height:0;border-left:3.5px solid transparent;border-right:3.5px solid transparent;border-top:3.5px solid #e6e6e6"></div>
<div style="left:10px;top:646.9px;width:7.7px;height:6px;background:#a9a9b1"></div>
<div class="t" style="left:21.9px;top:644.3px;height:11.2px;line-height:11.2px;font-size:7px;color:#c8c8cc;text-align:left;">平台设置</div>
<div style="left:88.6px;top:648.4px;width:0;height:0;border-left:3.5px solid transparent;border-right:3.5px solid transparent;border-top:3.5px solid #e6e6e6"></div>
<div style="left:10px;top:669.3px;width:7.7px;height:6px;background:#a9a9b1"></div>
<div class="t" style="left:21.9px;top:666.7px;height:11.2px;line-height:11.2px;font-size:7px;color:#c8c8cc;text-align:left;">反馈、举报</div>
<div style="left:88.6px;top:670.8px;width:0;height:0;border-left:3.5px solid transparent;border-right:3.5px solid transparent;border-top:3.5px solid #e6e6e6"></div>
<div style="left:10px;top:691.6999999999999px;width:7.7px;height:6px;background:#a9a9b1"></div>
<div class="t" style="left:21.9px;top:689.1px;height:11.2px;line-height:11.2px;font-size:7px;color:#c8c8cc;text-align:left;">短信群发</div>
<div style="left:10px;top:714.0999999999999px;width:7.7px;height:6px;background:#a9a9b1"></div>
<div class="t" style="left:21.9px;top:711.5px;height:11.2px;line-height:11.2px;font-size:7px;color:#c8c8cc;text-align:left;">系统管理员</div>
<svg style="position:absolute;left:108.8px;top:496.5px" width="7" height="7" viewBox="0 0 7 7"><path d="M0 4 L1.8 4 L3 0.6 L4.3 6.4 L5.2 3.6 L7 3.6" fill="none" stroke="#666" stroke-width="0.65"/></svg>
<div class="t" style="left:120.7px;top:494.4px;height:11.2px;line-height:11.2px;font-size:7px;color:#333;text-align:left;">数据统计</div>
<div style="left:163.3px;top:497.0px;width:7.6px;height:6px;background:#4d4850;border-left:1px solid #9a8aa0;border-right:1px solid #8a8aa8"></div>
<div class="t" style="left:173.2px;top:494.4px;height:11.2px;line-height:11.2px;font-size:7px;color:#333;text-align:left;">待审核列表</div>
<svg style="position:absolute;left:213.3px;top:497px" width="6" height="6" viewBox="0 0 6 6"><path d="M0.8 0.8 L5.2 5.2 M5.2 0.8 L0.8 5.2" stroke="#bbb" stroke-width="0.7"/></svg>
<div style="left:234.8px;top:497.0px;width:7.6px;height:6px;background:#4d4850;border-left:1px solid #9a8aa0;border-right:1px solid #8a8aa8"></div>
<div class="t" style="left:245px;top:494.4px;height:11.2px;line-height:11.2px;font-size:7px;color:#333;text-align:left;">聊天室列表</div>
<svg style="position:absolute;left:285.4px;top:497px" width="6" height="6" viewBox="0 0 6 6"><path d="M0.8 0.8 L5.2 5.2 M5.2 0.8 L0.8 5.2" stroke="#bbb" stroke-width="0.7"/></svg>
<div style="left:307.3px;top:497.0px;width:7.6px;height:6px;background:#4d4850;border-left:1px solid #9a8aa0;border-right:1px solid #8a8aa8"></div>
<div class="t" style="left:317.5px;top:494.4px;height:11.2px;line-height:11.2px;font-size:7px;color:#333;text-align:left;">学历列表</div>
<svg style="position:absolute;left:350px;top:497px" width="6" height="6" viewBox="0 0 6 6"><path d="M0.8 0.8 L5.2 5.2 M5.2 0.8 L0.8 5.2" stroke="#bbb" stroke-width="0.7"/></svg>
<div style="left:365px;top:489.6px;width:64px;height:20.6px;background:#5FB878"></div>
<div style="left:372px;top:497.0px;width:7.6px;height:6px;background:#e8f5ec;border-left:1px solid #9a8aa0;border-right:1px solid #8a8aa8"></div>
<div class="t" style="left:382px;top:494.4px;height:11.2px;line-height:11.2px;font-size:7px;color:#fff;text-align:left;">企业入驻</div>
<svg style="position:absolute;left:415px;top:497px" width="6" height="6" viewBox="0 0 6 6"><path d="M0.8 0.8 L5.2 5.2 M5.2 0.8 L0.8 5.2" stroke="#e0f0e4" stroke-width="0.7"/></svg>
<div class="t" style="left:-84px;top:523.9px;width:300px;height:11.2px;line-height:11.2px;font-size:7px;color:#555;text-align:right;">用户号:</div>
<div style="left:226.8px;top:520.4px;width:90.2px;height:17.8px;background:#fff;border:1px solid #e6e6e6;border-radius:1.5px"></div>
<div class="t" style="left:232.5px;top:524.3px;height:10.4px;line-height:10.4px;font-size:6.5px;color:#999;text-align:left;">请输入用户号</div>
<div class="t" style="left:-84px;top:550.4px;width:300px;height:11.2px;line-height:11.2px;font-size:7px;color:#555;text-align:right;">入驻状态:</div>
<div style="left:226.8px;top:546.5px;width:104.8px;height:18.5px;background:#fff;border:1px solid #e6e6e6;border-radius:1.5px"></div>
<div class="t" style="left:232.5px;top:550.8px;height:10.4px;line-height:10.4px;font-size:6.5px;color:#999;text-align:left;">请选择</div>
<div style="left:320.5px;top:554.5px;width:0;height:0;border-left:3px solid transparent;border-right:3px solid transparent;border-top:3px solid #c2c2c2"></div>
<div class="t" style="left:201px;top:523.9px;width:300px;height:11.2px;line-height:11.2px;font-size:7px;color:#555;text-align:right;">企业名称:</div>
<div style="left:511.6px;top:520px;width:90.2px;height:18.5px;background:#fff;border:1px solid #e6e6e6;border-radius:1.5px"></div>
<div class="t" style="left:517px;top:524.3px;height:10.4px;line-height:10.4px;font-size:6.5px;color:#666;text-align:left;">模糊匹配</div>
<div style="left:528px;top:546.5px;width:44px;height:19.1px;background:#009688;border-radius:1.5px"></div>
<svg style="position:absolute;left:536.5px;top:551.5px" width="9" height="9" viewBox="0 0 9 9"><circle cx="3.8" cy="3.8" r="2.9" fill="none" stroke="#fff" stroke-width="1.2"/><path d="M5.8 5.8 L8.3 8.3" stroke="#fff" stroke-width="1.4"/></svg>
<div class="t" style="left:548px;top:550.4px;height:11.2px;line-height:11.2px;font-size:7px;color:#fff;text-align:left;font-weight:bold">搜索</div>
<div style="left:101px;top:570.4px;width:844px;height:28.1px;background:#f2f2f2"></div>
<div style="left:101px;top:598.5px;width:844px;height:1px;background:#ebebeb"></div>
<div style="left:101px;top:626.3px;width:844px;height:1px;background:#ebebeb"></div>
<div style="left:101px;top:654.1px;width:844px;height:1px;background:#ebebeb"></div>
<div style="left:101px;top:681.9px;width:844px;height:1px;background:#ebebeb"></div>
<div style="left:101px;top:709.7px;width:844px;height:1px;background:#ebebeb"></div>
<div style="left:101px;top:737.5px;width:844px;height:1px;background:#ebebeb"></div>
<div style="left:101px;top:765.3px;width:844px;height:1px;background:#ebebeb"></div>
<div style="left:101px;top:793.1px;width:844px;height:1px;background:#ebebeb"></div>
<div style="left:101px;top:820.9px;width:844px;height:1px;background:#ebebeb"></div>
<div style="left:101px;top:570.4px;width:844px;height:1px;background:#ebebeb"></div>
<div style="left:141.3px;top:570.4px;width:1px;height:250.60000000000002px;background:#ebebeb"></div>
<div style="left:201.6px;top:570.4px;width:1px;height:250.60000000000002px;background:#ebebeb"></div>
<div style="left:313.2px;top:570.4px;width:1px;height:250.60000000000002px;background:#ebebeb"></div>
<div style="left:424.1px;top:570.4px;width:1px;height:250.60000000000002px;background:#ebebeb"></div>
<div style="left:535.5px;top:570.4px;width:1px;height:250.60000000000002px;background:#ebebeb"></div>
<div style="left:647.1px;top:570.4px;width:1px;height:250.60000000000002px;background:#ebebeb"></div>
<div style="left:758.4px;top:570.4px;width:1px;height:250.60000000000002px;background:#ebebeb"></div>
<div style="left:833.6px;top:570.4px;width:1px;height:250.60000000000002px;background:#ebebeb"></div>
<div class="t" style="left:108.6px;top:578.8px;height:11.2px;line-height:11.2px;font-size:7px;color:#666;text-align:left;">编号</div>
<div class="t" style="left:148.9px;top:578.8px;height:11.2px;line-height:11.2px;font-size:7px;color:#666;text-align:left;">用户号</div>
<div class="t" style="left:209.2px;top:578.8px;height:11.2px;line-height:11.2px;font-size:7px;color:#666;text-align:left;">公司名称</div>
<div class="t" style="left:320.8px;top:578.8px;height:11.2px;line-height:11.2px;font-size:7px;color:#666;text-align:left;">公司类型</div>
<div class="t" style="left:431.70000000000005px;top:578.8px;height:11.2px;line-height:11.2px;font-size:7px;color:#666;text-align:left;">联系人</div>
<div class="t" style="left:543.1px;top:578.8px;height:11.2px;line-height:11.2px;font-size:7px;color:#666;text-align:left;">联系人手机号</div>
<div class="t" style="left:654.7px;top:578.8px;height:11.2px;line-height:11.2px;font-size:7px;color:#666;text-align:left;">入驻状态</div>
<div class="t" style="left:766.0px;top:578.8px;height:11.2px;line-height:11.2px;font-size:7px;color:#666;text-align:left;">入驻时间</div>
<div class="t" style="left:841.2px;top:578.8px;height:11.2px;line-height:11.2px;font-size:7px;color:#666;text-align:left;">操作</div>
<div class="t" style="left:108.6px;top:606.6px;height:11.2px;line-height:11.2px;font-size:7px;color:#666;text-align:left;">51</div>
<div class="t" style="left:148.9px;top:606.6px;height:11.2px;line-height:11.2px;font-size:7px;color:#666;text-align:left;">3200107</div>
<div class="t" style="left:209.2px;top:606.6px;height:11.2px;line-height:11.2px;font-size:7px;color:#666;text-align:left;">蓝翔</div>
<div class="t" style="left:320.8px;top:606.6px;height:11.2px;line-height:11.2px;font-size:7px;color:#666;text-align:left;"></div>
<div class="t" style="left:431.70000000000005px;top:606.6px;height:11.2px;line-height:11.2px;font-size:7px;color:#666;text-align:left;">啊啊</div>
<div class="t" style="left:543.1px;top:606.6px;height:11.2px;line-height:11.2px;font-size:7px;color:#666;text-align:left;">19902902880</div>
<div class="t" style="left:654.7px;top:606.6px;height:11.2px;line-height:11.2px;font-size:7px;color:#666;text-align:left;">审核失败</div>
<div class="t" style="left:766.0px;top:606.6px;height:11.2px;line-height:11.2px;font-size:7px;color:#666;text-align:left;">2019-08-15 15:58</div>
<div style="left:841px;top:604.85px;width:38.4px;height:14.7px;background:#009688;border-radius:1.5px"></div>
<svg style="position:absolute;left:845.5px;top:608.00px" width="4" height="8" viewBox="0 0 4 8"><circle cx="2" cy="1.1" r="1" fill="#fff"/><path d="M0.6 3 L2.8 3 L2.8 7 L3.6 7 L3.6 8 L0.4 8 L0.4 7 L1.3 7 L1.3 4 L0.6 4 Z" fill="#fff"/></svg>
<div class="t" style="left:850px;top:607.0px;height:10.4px;line-height:10.4px;font-size:6.5px;color:#fff;text-align:left;font-weight:bold">入驻详情</div>
<div class="t" style="left:108.6px;top:634.4px;height:11.2px;line-height:11.2px;font-size:7px;color:#666;text-align:left;">11</div>
<div class="t" style="left:148.9px;top:634.4px;height:11.2px;line-height:11.2px;font-size:7px;color:#666;text-align:left;">3200034</div>
<div class="t" style="left:209.2px;top:634.4px;height:11.2px;line-height:11.2px;font-size:7px;color:#666;text-align:left;">科名</div>
<div class="t" style="left:320.8px;top:634.4px;height:11.2px;line-height:11.2px;font-size:7px;color:#666;text-align:left;">科技</div>
<div class="t" style="left:431.70000000000005px;top:634.4px;height:11.2px;line-height:11.2px;font-size:7px;color:#666;text-align:left;">唐贾香</div>
<div class="t" style="left:543.1px;top:634.4px;height:11.2px;line-height:11.2px;font-size:7px;color:#666;text-align:left;">17688935908</div>
<div class="t" style="left:654.7px;top:634.4px;height:11.2px;line-height:11.2px;font-size:7px;color:#666;text-align:left;">审核通过</div>
<div class="t" style="left:766.0px;top:634.4px;height:11.2px;line-height:11.2px;font-size:7px;color:#666;text-align:left;">2019-05-28 10:40</div>
<div style="left:841px;top:632.65px;width:38.4px;height:14.7px;background:#009688;border-radius:1.5px"></div>
<svg style="position:absolute;left:845.5px;top:635.80px" width="4" height="8" viewBox="0 0 4 8"><circle cx="2" cy="1.1" r="1" fill="#fff"/><path d="M0.6 3 L2.8 3 L2.8 7 L3.6 7 L3.6 8 L0.4 8 L0.4 7 L1.3 7 L1.3 4 L0.6 4 Z" fill="#fff"/></svg>
<div class="t" style="left:850px;top:634.8px;height:10.4px;line-height:10.4px;font-size:6.5px;color:#fff;text-align:left;font-weight:bold">入驻详情</div>
<div class="t" style="left:108.6px;top:662.2px;height:11.2px;line-height:11.2px;font-size:7px;color:#666;text-align:left;">10</div>
<div class="t" style="left:148.9px;top:662.2px;height:11.2px;line-height:11.2px;font-size:7px;color:#666;text-align:left;">3200014</div>
<div class="t" style="left:209.2px;top:662.2px;height:11.2px;line-height:11.2px;font-size:7px;color:#666;text-align:left;">HUAWEI</div>
<div class="t" style="left:320.8px;top:662.2px;height:11.2px;line-height:11.2px;font-size:7px;color:#666;text-align:left;">科技</div>
<div class="t" style="left:431.70000000000005px;top:662.2px;height:11.2px;line-height:11.2px;font-size:7px;color:#666;text-align:left;">GILBERT</div>
<div class="t" style="left:543.1px;top:662.2px;height:11.2px;line-height:11.2px;font-size:7px;color:#666;text-align:left;">13800138000</div>
<div class="t" style="left:654.7px;top:662.2px;height:11.2px;line-height:11.2px;font-size:7px;color:#666;text-align:left;">审核通过</div>
<div class="t" style="left:766.0px;top:662.2px;height:11.2px;line-height:11.2px;font-size:7px;color:#666;text-align:left;">2019-05-28 10:13</div>
<div style="left:841px;top:660.45px;width:38.4px;height:14.7px;background:#009688;border-radius:1.5px"></div>
<svg style="position:absolute;left:845.5px;top:663.60px" width="4" height="8" viewBox="0 0 4 8"><circle cx="2" cy="1.1" r="1" fill="#fff"/><path d="M0.6 3 L2.8 3 L2.8 7 L3.6 7 L3.6 8 L0.4 8 L0.4 7 L1.3 7 L1.3 4 L0.6 4 Z" fill="#fff"/></svg>
<div class="t" style="left:850px;top:662.6px;height:10.4px;line-height:10.4px;font-size:6.5px;color:#fff;text-align:left;font-weight:bold">入驻详情</div>
<div class="t" style="left:108.6px;top:690.0px;height:11.2px;line-height:11.2px;font-size:7px;color:#666;text-align:left;">9</div>
<div class="t" style="left:148.9px;top:690.0px;height:11.2px;line-height:11.2px;font-size:7px;color:#666;text-align:left;">3200019</div>
<div class="t" style="left:209.2px;top:690.0px;height:11.2px;line-height:11.2px;font-size:7px;color:#666;text-align:left;">科名网络</div>
<div class="t" style="left:320.8px;top:690.0px;height:11.2px;line-height:11.2px;font-size:7px;color:#666;text-align:left;">科技</div>
<div class="t" style="left:431.70000000000005px;top:690.0px;height:11.2px;line-height:11.2px;font-size:7px;color:#666;text-align:left;">黄宇健</div>
<div class="t" style="left:543.1px;top:690.0px;height:11.2px;line-height:11.2px;font-size:7px;color:#666;text-align:left;">18319893061</div>
<div class="t" style="left:654.7px;top:690.0px;height:11.2px;line-height:11.2px;font-size:7px;color:#666;text-align:left;">审核通过</div>
<div class="t" style="left:766.0px;top:690.0px;height:11.2px;line-height:11.2px;font-size:7px;color:#666;text-align:left;">2019-05-28 10:10</div>
<div style="left:841px;top:688.25px;width:38.4px;height:14.7px;background:#009688;border-radius:1.5px"></div>
<svg style="position:absolute;left:845.5px;top:691.40px" width="4" height="8" viewBox="0 0 4 8"><circle cx="2" cy="1.1" r="1" fill="#fff"/><path d="M0.6 3 L2.8 3 L2.8 7 L3.6 7 L3.6 8 L0.4 8 L0.4 7 L1.3 7 L1.3 4 L0.6 4 Z" fill="#fff"/></svg>
<div class="t" style="left:850px;top:690.4px;height:10.4px;line-height:10.4px;font-size:6.5px;color:#fff;text-align:left;font-weight:bold">入驻详情</div>
<div class="t" style="left:108.6px;top:717.8px;height:11.2px;line-height:11.2px;font-size:7px;color:#666;text-align:left;">8</div>
<div class="t" style="left:148.9px;top:717.8px;height:11.2px;line-height:11.2px;font-size:7px;color:#666;text-align:left;">3200011</div>
<div class="t" style="left:209.2px;top:717.8px;height:11.2px;line-height:11.2px;font-size:7px;color:#666;text-align:left;">深圳科名网络有限公司</div>
<div class="t" style="left:320.8px;top:717.8px;height:11.2px;line-height:11.2px;font-size:7px;color:#666;text-align:left;">科技</div>
<div class="t" style="left:431.70000000000005px;top:717.8px;height:11.2px;line-height:11.2px;font-size:7px;color:#666;text-align:left;">周威</div>
<div class="t" style="left:543.1px;top:717.8px;height:11.2px;line-height:11.2px;font-size:7px;color:#666;text-align:left;">19902902880</div>
<div class="t" style="left:654.7px;top:717.8px;height:11.2px;line-height:11.2px;font-size:7px;color:#666;text-align:left;">审核通过</div>
<div class="t" style="left:766.0px;top:717.8px;height:11.2px;line-height:11.2px;font-size:7px;color:#666;text-align:left;">2019-05-28 10:06</div>
<div style="left:841px;top:716.0500000000001px;width:38.4px;height:14.7px;background:#009688;border-radius:1.5px"></div>
<svg style="position:absolute;left:845.5px;top:719.20px" width="4" height="8" viewBox="0 0 4 8"><circle cx="2" cy="1.1" r="1" fill="#fff"/><path d="M0.6 3 L2.8 3 L2.8 7 L3.6 7 L3.6 8 L0.4 8 L0.4 7 L1.3 7 L1.3 4 L0.6 4 Z" fill="#fff"/></svg>
<div class="t" style="left:850px;top:718.2px;height:10.4px;line-height:10.4px;font-size:6.5px;color:#fff;text-align:left;font-weight:bold">入驻详情</div>
<div class="t" style="left:108.6px;top:745.6px;height:11.2px;line-height:11.2px;font-size:7px;color:#666;text-align:left;">7</div>
<div class="t" style="left:148.9px;top:745.6px;height:11.2px;line-height:11.2px;font-size:7px;color:#666;text-align:left;">3200015</div>
<div class="t" style="left:209.2px;top:745.6px;height:11.2px;line-height:11.2px;font-size:7px;color:#666;text-align:left;">1111</div>
<div class="t" style="left:320.8px;top:745.6px;height:11.2px;line-height:11.2px;font-size:7px;color:#666;text-align:left;">金融</div>
<div class="t" style="left:431.70000000000005px;top:745.6px;height:11.2px;line-height:11.2px;font-size:7px;color:#666;text-align:left;">11111</div>
<div class="t" style="left:543.1px;top:745.6px;height:11.2px;line-height:11.2px;font-size:7px;color:#666;text-align:left;">19902902880</div>
<div class="t" style="left:654.7px;top:745.6px;height:11.2px;line-height:11.2px;font-size:7px;color:#666;text-align:left;">审核通过</div>
<div class="t" style="left:766.0px;top:745.6px;height:11.2px;line-height:11.2px;font-size:7px;color:#666;text-align:left;">2019-05-16 16:14</div>
<div style="left:841px;top:743.85px;width:38.4px;height:14.7px;background:#009688;border-radius:1.5px"></div>
<svg style="position:absolute;left:845.5px;top:747.00px" width="4" height="8" viewBox="0 0 4 8"><circle cx="2" cy="1.1" r="1" fill="#fff"/><path d="M0.6 3 L2.8 3 L2.8 7 L3.6 7 L3.6 8 L0.4 8 L0.4 7 L1.3 7 L1.3 4 L0.6 4 Z" fill="#fff"/></svg>
<div class="t" style="left:850px;top:746.0px;height:10.4px;line-height:10.4px;font-size:6.5px;color:#fff;text-align:left;font-weight:bold">入驻详情</div>
<div class="t" style="left:108.6px;top:773.4px;height:11.2px;line-height:11.2px;font-size:7px;color:#666;text-align:left;">6</div>
<div class="t" style="left:148.9px;top:773.4px;height:11.2px;line-height:11.2px;font-size:7px;color:#666;text-align:left;">3200010</div>
<div class="t" style="left:209.2px;top:773.4px;height:11.2px;line-height:11.2px;font-size:7px;color:#666;text-align:left;">深圳百合网</div>
<div class="t" style="left:320.8px;top:773.4px;height:11.2px;line-height:11.2px;font-size:7px;color:#666;text-align:left;">科技</div>
<div class="t" style="left:431.70000000000005px;top:773.4px;height:11.2px;line-height:11.2px;font-size:7px;color:#666;text-align:left;">黄宇建</div>
<div class="t" style="left:543.1px;top:773.4px;height:11.2px;line-height:11.2px;font-size:7px;color:#666;text-align:left;">18319893061</div>
<div class="t" style="left:654.7px;top:773.4px;height:11.2px;line-height:11.2px;font-size:7px;color:#666;text-align:left;">审核通过</div>
<div class="t" style="left:766.0px;top:773.4px;height:11.2px;line-height:11.2px;font-size:7px;color:#666;text-align:left;">2019-05-16 15:57</div>
<div style="left:841px;top:771.65px;width:38.4px;height:14.7px;background:#009688;border-radius:1.5px"></div>
<svg style="position:absolute;left:845.5px;top:774.80px" width="4" height="8" viewBox="0 0 4 8"><circle cx="2" cy="1.1" r="1" fill="#fff"/><path d="M0.6 3 L2.8 3 L2.8 7 L3.6 7 L3.6 8 L0.4 8 L0.4 7 L1.3 7 L1.3 4 L0.6 4 Z" fill="#fff"/></svg>
<div class="t" style="left:850px;top:773.8px;height:10.4px;line-height:10.4px;font-size:6.5px;color:#fff;text-align:left;font-weight:bold">入驻详情</div>
<div class="t" style="left:108.6px;top:801.2px;height:11.2px;line-height:11.2px;font-size:7px;color:#666;text-align:left;">1</div>
<div class="t" style="left:148.9px;top:801.2px;height:11.2px;line-height:11.2px;font-size:7px;color:#666;text-align:left;">3200003</div>
<div class="t" style="left:209.2px;top:801.2px;height:11.2px;line-height:11.2px;font-size:7px;color:#666;text-align:left;">深圳科名网络技术公司</div>
<div class="t" style="left:320.8px;top:801.2px;height:11.2px;line-height:11.2px;font-size:7px;color:#666;text-align:left;">科技</div>
<div class="t" style="left:431.70000000000005px;top:801.2px;height:11.2px;line-height:11.2px;font-size:7px;color:#666;text-align:left;">黄宇建</div>
<div class="t" style="left:543.1px;top:801.2px;height:11.2px;line-height:11.2px;font-size:7px;color:#666;text-align:left;">18319893061</div>
<div class="t" style="left:654.7px;top:801.2px;height:11.2px;line-height:11.2px;font-size:7px;color:#666;text-align:left;">审核通过</div>
<div class="t" style="left:766.0px;top:801.2px;height:11.2px;line-height:11.2px;font-size:7px;color:#666;text-align:left;">2019-05-06 11:09</div>
<div style="left:841px;top:799.45px;width:38.4px;height:14.7px;background:#009688;border-radius:1.5px"></div>
<svg style="position:absolute;left:845.5px;top:802.60px" width="4" height="8" viewBox="0 0 4 8"><circle cx="2" cy="1.1" r="1" fill="#fff"/><path d="M0.6 3 L2.8 3 L2.8 7 L3.6 7 L3.6 8 L0.4 8 L0.4 7 L1.3 7 L1.3 4 L0.6 4 Z" fill="#fff"/></svg>
<div class="t" style="left:850px;top:801.6px;height:10.4px;line-height:10.4px;font-size:6.5px;color:#fff;text-align:left;font-weight:bold">入驻详情</div>
<div style="left:101px;top:840.6px;width:844px;height:1px;background:#ebebeb"></div>
<svg style="position:absolute;left:108px;top:827.3px" width="5" height="8" viewBox="0 0 5 8"><path d="M4 0.5 L1 4 L4 7.5" fill="none" stroke="#ccc" stroke-width="0.8"/></svg>
<div style="left:120.5px;top:824.8px;width:15.8px;height:13.1px;background:#009688;border-radius:1px"></div>
<div class="t" style="left:-21.599999999999994px;top:826.1px;width:300px;height:10.4px;line-height:10.4px;font-size:6.5px;color:#fff;text-align:center;font-weight:bold">1</div>
<svg style="position:absolute;left:143px;top:827.3px" width="5" height="8" viewBox="0 0 5 8"><path d="M1 0.5 L4 4 L1 7.5" fill="none" stroke="#bbb" stroke-width="0.8"/></svg>
<div class="t" style="left:154.8px;top:826.1px;height:10.4px;line-height:10.4px;font-size:6.5px;color:#999;text-align:left;">到第</div>
<div style="left:172.4px;top:824.8px;width:19.5px;height:13.1px;background:#fff;border:1px solid #e6e6e6"></div>
<div class="t" style="left:32.099999999999994px;top:826.1px;width:300px;height:10.4px;line-height:10.4px;font-size:6.5px;color:#333;text-align:center;">1</div>
<div class="t" style="left:197px;top:826.1px;height:10.4px;line-height:10.4px;font-size:6.5px;color:#999;text-align:left;">页</div>
<div style="left:208px;top:824.8px;width:22.6px;height:13.1px;background:#fff;border:1px solid #e6e6e6"></div>
<div class="t" style="left:69.30000000000001px;top:826.1px;width:300px;height:10.4px;line-height:10.4px;font-size:6.5px;color:#333;text-align:center;font-weight:bold">确定</div>
<div class="t" style="left:235px;top:826.1px;height:10.4px;line-height:10.4px;font-size:6.5px;color:#333;text-align:left;">共 8 条</div>
<div style="left:259px;top:824.8px;width:37px;height:13.1px;background:#fff;border:1px solid #e6e6e6;border-radius:1px"></div>
<div class="t" style="left:262px;top:826.1px;height:10.4px;line-height:10.4px;font-size:6.5px;color:#333;text-align:left;">10 条/页</div>
<svg style="position:absolute;left:288px;top:829.3px" width="6" height="4" viewBox="0 0 6 4"><path d="M0.8 0.8 L3 3 L5.2 0.8" fill="none" stroke="#222" stroke-width="1.1"/></svg>
<div style="left:101px;top:877.7px;width:844px;height:20px;background:#eeeeee"></div>
<div class="t" style="left:501.2px;top:881.2px;height:10.4px;line-height:10.4px;font-size:6.5px;color:#666;text-align:left;">2019 © 青缘福田</div>
<div style="left:5px;top:885px;width:31px;height:12px;background:#eceef2;border:1px solid #d8dbe2;border-radius:0 3px 0 0"></div>
<div class="t" style="left:4.5px;top:884.7px;height:10.4px;line-height:10.4px;font-size:6.5px;color:#666;text-align:left;">avascript:</div>
</div></div>
<div style="left:5px;top:927.2px;width:940px;height:435.6px;background:#fff;border-radius:4px;box-shadow:0 0 3px rgba(0,0,0,.07),0 3px 9px rgba(0,0,0,.06);overflow:hidden">
</div>
<div style="left:5px;top:927.2px;width:940px;height:435.6px;overflow:hidden;border-radius:4px"><div style="left:-5px;top:-927.2px;width:951px;height:1370px">
<svg style="position:absolute;left:22.2px;top:931.2px;z-index:5" width="22.0" height="22.5" viewBox="0 0 22.0 22.5"><g transform="scale(1.0)"><path d="M1.7 2.9 Q3 0.8 5.2 0.7 L14 0.5 Q16.5 0.8 17.5 2.5 L21.3 11.4 L18.8 11.4 Q19.5 14 19 15.2 Q17 21.5 9.6 21.8 Q0.5 21 0.5 11.7 Q0.5 6 1.7 2.9 Z" fill="#fb4652"/><circle cx="10.3" cy="11.8" r="7.3" fill="none" stroke="#ff9ea3" stroke-width="0.7"/><ellipse cx="9.5" cy="10.1" rx="0.8" ry="1.5" fill="#2a2a2a"/><ellipse cx="13.4" cy="10.1" rx="0.8" ry="1.5" fill="#2a2a2a"/><circle cx="6" cy="13" r="1" fill="#ff9ea3"/><path d="M12.8 16.8 Q13.8 14.6 15.6 15.6 Q17.5 14.6 18.3 16.8 Q18.5 19 15.6 21.2 Q12.6 19 12.8 16.8 Z" fill="#ff2f40" stroke="#ff9ea3" stroke-width="0.5"/></g></svg>
<div class="t" style="left:51.2px;top:932.3px;height:17.6px;line-height:17.6px;font-size:11px;color:#333;text-align:left;-webkit-text-stroke:0.25px #333">青缘福田管理系统</div>
<div style="left:718.5px;top:938.9000000000001px;width:6px;height:6px;border:1px solid #999;background:linear-gradient(#999,#999) center/2px 2px no-repeat"></div>
<div class="t" style="left:726px;top:936.3px;height:11.2px;line-height:11.2px;font-size:7px;color:#888;text-align:left;">企业入驻二维码</div>
<div style="left:806.7px;top:939.1px;width:7px;height:6px;background:#555;clip-path:polygon(0 0,100% 8%,82% 40%,100% 75%,18% 68%,18% 100%,0 100%)"></div>
<div class="t" style="left:817px;top:936.3px;height:11.2px;line-height:11.2px;font-size:7px;color:#888;text-align:left;">企业后台</div>
<svg style="position:absolute;left:876px;top:935.5px;z-index:5" width="17.2" height="17.6" viewBox="0 0 17.2 17.6"><g transform="scale(0.78)"><path d="M1.7 2.9 Q3 0.8 5.2 0.7 L14 0.5 Q16.5 0.8 17.5 2.5 L21.3 11.4 L18.8 11.4 Q19.5 14 19 15.2 Q17 21.5 9.6 21.8 Q0.5 21 0.5 11.7 Q0.5 6 1.7 2.9 Z" fill="#fb4652"/><circle cx="10.3" cy="11.8" r="7.3" fill="none" stroke="#ff9ea3" stroke-width="0.7"/><ellipse cx="9.5" cy="10.1" rx="0.8" ry="1.5" fill="#2a2a2a"/><ellipse cx="13.4" cy="10.1" rx="0.8" ry="1.5" fill="#2a2a2a"/><circle cx="6" cy="13" r="1" fill="#ff9ea3"/><path d="M12.8 16.8 Q13.8 14.6 15.6 15.6 Q17.5 14.6 18.3 16.8 Q18.5 19 15.6 21.2 Q12.6 19 12.8 16.8 Z" fill="#ff2f40" stroke="#ff9ea3" stroke-width="0.5"/></g></svg>
<div class="t" style="left:634px;top:936.3px;width:300px;height:11.2px;line-height:11.2px;font-size:7px;color:#888;text-align:right;">管理员</div>
<svg style="position:absolute;left:895px;top:935.5px;z-index:6" width="25.0" height="28.0" viewBox="0 0 25.0 28.0"><defs><linearGradient id="bg" x1="0" y1="0" x2="1" y2="1"><stop offset="0" stop-color="#3f7ff2"/><stop offset="1" stop-color="#6a9ff5"/></linearGradient></defs><g transform="scale(1.0)"><path d="M11.2 0.9 Q12.4 0.2 13.6 0.9 L23.4 6.4 Q24.6 7.1 24.6 8.5 L24.6 19.5 Q24.6 20.9 23.4 21.6 L13.6 27.1 Q12.4 27.8 11.2 27.1 L1.4 21.6 Q0.2 20.9 0.2 19.5 L0.2 8.5 Q0.2 7.1 1.4 6.4 Z" fill="url(#bg)"/><path d="M3.4 8.2 Q5.5 8.3 6.8 9.1 Q8.5 10.5 10.6 11 L12.5 10.4 Q16 7.5 20.1 5.6 Q18.5 10 16.6 13.2 L21 15.1 L15.7 16.7 L16.6 23.9 Q12 20.5 9.3 18.6 Q6.5 16.5 6.8 14.1 Q6.8 11.8 5.6 10.4 Q4.7 9 3.4 8.2 Z" fill="#eef3ff"/></g></svg>
<div style="left:5px;top:957.3px;width:98.5px;height:420px;background:#393D49"></div>
<div style="left:103.2px;top:957.3px;width:1.2px;height:420px;background:#009688"></div>
<div style="left:104px;top:957.3px;width:841px;height:2.2px;background:#009688"></div>
<div style="left:104px;top:978.6px;width:841px;height:0.9px;background:#c2e3ca"></div>
<div style="left:13.9px;top:965.0px;width:7px;height:6px;background:#a9a9b1"></div>
<div class="t" style="left:25.9px;top:962.4px;height:11.2px;line-height:11.2px;font-size:7px;color:#c8c8cc;text-align:left;">入驻、审核</div>
<div style="left:91.8px;top:966.5px;width:0;height:0;border-left:3.5px solid transparent;border-right:3.5px solid transparent;border-top:3.5px solid #e6e6e6"></div>
<div style="left:13.9px;top:987.7px;width:7px;height:6px;background:#a9a9b1"></div>
<div class="t" style="left:25.9px;top:985.1px;height:11.2px;line-height:11.2px;font-size:7px;color:#f0f0f0;text-align:left;text-decoration:underline;text-decoration-thickness:0.5px;text-underline-offset:1px">用户、企业</div>
<div style="left:91.8px;top:988.7px;width:0;height:0;border-left:3.5px solid transparent;border-right:3.5px solid transparent;border-bottom:3.5px solid #e6e6e6"></div>
<div style="left:5px;top:1001.3px;width:98.2px;height:20.1px;background:#009688"></div>
<div style="left:5px;top:1021.4px;width:98.2px;height:99.1px;background:#2b2e37"></div>
<div style="left:18.7px;top:1008.4px;width:7.5px;height:6px;background:#c9e2dd"></div>
<div class="t" style="left:31px;top:1005.8px;height:11.2px;line-height:11.2px;font-size:7px;color:#fff;text-align:left;">用户列表</div>
<div style="left:18.7px;top:1028.3px;width:7.5px;height:6px;background:#b9b9c1"></div>
<div class="t" style="left:31px;top:1025.7px;height:11.2px;line-height:11.2px;font-size:7px;color:#e0e0e0;text-align:left;text-decoration:underline;text-decoration-thickness:0.5px;text-underline-offset:1px">企业列表</div>
<div style="left:18.7px;top:1048.2px;width:7.5px;height:6px;background:#b9b9c1"></div>
<div class="t" style="left:31px;top:1045.6px;height:11.2px;line-height:11.2px;font-size:7px;color:#e0e0e0;text-align:left;">朋友圈列表</div>
<div style="left:18.7px;top:1068.1px;width:7.5px;height:6px;background:#b9b9c1"></div>
<div class="t" style="left:31px;top:1065.5px;height:11.2px;line-height:11.2px;font-size:7px;color:#e0e0e0;text-align:left;">学历认证</div>
<div style="left:18.7px;top:1088.0px;width:7.5px;height:6px;background:#b9b9c1"></div>
<div class="t" style="left:31px;top:1085.4px;height:11.2px;line-height:11.2px;font-size:7px;color:#e0e0e0;text-align:left;">优质用户审核</div>
<div style="left:18.7px;top:1107.9px;width:7.5px;height:6px;background:#b9b9c1"></div>
<div class="t" style="left:31px;top:1105.3px;height:11.2px;line-height:11.2px;font-size:7px;color:#e0e0e0;text-align:left;">基本资料审核</div>
<div style="left:13.9px;top:1128.7px;width:7px;height:6px;background:#a9a9b1"></div>
<div class="t" style="left:25.9px;top:1126.1px;height:11.2px;line-height:11.2px;font-size:7px;color:#c8c8cc;text-align:left;">活动</div>
<div style="left:91.8px;top:1130.2px;width:0;height:0;border-left:3.5px solid transparent;border-right:3.5px solid transparent;border-top:3.5px solid #e6e6e6"></div>
<div style="left:13.9px;top:1150.97px;width:7px;height:6px;background:#a9a9b1"></div>
<div class="t" style="left:25.9px;top:1148.37px;height:11.2px;line-height:11.2px;font-size:7px;color:#c8c8cc;text-align:left;">聊天室</div>
<div style="left:91.8px;top:1152.47px;width:0;height:0;border-left:3.5px solid transparent;border-right:3.5px solid transparent;border-top:3.5px solid #e6e6e6"></div>
<div style="left:13.9px;top:1173.24px;width:7px;height:6px;background:#a9a9b1"></div>
<div class="t" style="left:25.9px;top:1170.64px;height:11.2px;line-height:11.2px;font-size:7px;color:#c8c8cc;text-align:left;">基础配置</div>
<div style="left:91.8px;top:1174.74px;width:0;height:0;border-left:3.5px solid transparent;border-right:3.5px solid transparent;border-top:3.5px solid #e6e6e6"></div>
<div style="left:13.9px;top:1195.51px;width:7px;height:6px;background:#a9a9b1"></div>
<div class="t" style="left:25.9px;top:1192.91px;height:11.2px;line-height:11.2px;font-size:7px;color:#c8c8cc;text-align:left;">平台设置</div>
<div style="left:91.8px;top:1197.01px;width:0;height:0;border-left:3.5px solid transparent;border-right:3.5px solid transparent;border-top:3.5px solid #e6e6e6"></div>
<div style="left:13.9px;top:1217.78px;width:7px;height:6px;background:#a9a9b1"></div>
<div class="t" style="left:25.9px;top:1215.18px;height:11.2px;line-height:11.2px;font-size:7px;color:#c8c8cc;text-align:left;">反馈、举报</div>
<div style="left:91.8px;top:1219.28px;width:0;height:0;border-left:3.5px solid transparent;border-right:3.5px solid transparent;border-top:3.5px solid #e6e6e6"></div>
<div style="left:13.9px;top:1240.05px;width:7px;height:6px;background:#a9a9b1"></div>
<div class="t" style="left:25.9px;top:1237.45px;height:11.2px;line-height:11.2px;font-size:7px;color:#c8c8cc;text-align:left;">短信群发</div>
<div style="left:13.9px;top:1262.3200000000002px;width:7px;height:6px;background:#a9a9b1"></div>
<div class="t" style="left:25.9px;top:1259.72px;height:11.2px;line-height:11.2px;font-size:7px;color:#c8c8cc;text-align:left;">系统管理员</div>
<svg style="position:absolute;left:110.8px;top:966.5px" width="7" height="7" viewBox="0 0 7 7"><path d="M0 4 L1.8 4 L3 0.6 L4.3 6.4 L5.2 3.6 L7 3.6" fill="none" stroke="#666" stroke-width="0.65"/></svg>
<div class="t" style="left:123.8px;top:964.4px;height:11.2px;line-height:11.2px;font-size:7px;color:#333;text-align:left;">数据统计</div>
<div style="left:166.29999999999998px;top:967.0px;width:7.7px;height:6px;background:#4d4850;border-left:1px solid #9a8aa0;border-right:1px solid #8a8aa8"></div>
<div class="t" style="left:176.3px;top:964.4px;height:11.2px;line-height:11.2px;font-size:7px;color:#333;text-align:left;">待审核列表</div>
<svg style="position:absolute;left:216px;top:967px" width="6" height="6" viewBox="0 0 6 6"><path d="M0.8 0.8 L5.2 5.2 M5.2 0.8 L0.8 5.2" stroke="#bbb" stroke-width="0.7"/></svg>
<div style="left:238.0px;top:967.0px;width:7.7px;height:6px;background:#4d4850;border-left:1px solid #9a8aa0;border-right:1px solid #8a8aa8"></div>
<div class="t" style="left:248px;top:964.4px;height:11.2px;line-height:11.2px;font-size:7px;color:#333;text-align:left;">聊天室列表</div>
<svg style="position:absolute;left:288px;top:967px" width="6" height="6" viewBox="0 0 6 6"><path d="M0.8 0.8 L5.2 5.2 M5.2 0.8 L0.8 5.2" stroke="#bbb" stroke-width="0.7"/></svg>
<div style="left:311.5px;top:967.0px;width:7.7px;height:6px;background:#4d4850;border-left:1px solid #9a8aa0;border-right:1px solid #8a8aa8"></div>
<div class="t" style="left:321.5px;top:964.4px;height:11.2px;line-height:11.2px;font-size:7px;color:#333;text-align:left;">学历列表</div>
<svg style="position:absolute;left:353.2px;top:967px" width="6" height="6" viewBox="0 0 6 6"><path d="M0.8 0.8 L5.2 5.2 M5.2 0.8 L0.8 5.2" stroke="#bbb" stroke-width="0.7"/></svg>
<div style="left:376.4px;top:967.0px;width:7.7px;height:6px;background:#4d4850;border-left:1px solid #9a8aa0;border-right:1px solid #8a8aa8"></div>
<div class="t" style="left:386.4px;top:964.4px;height:11.2px;line-height:11.2px;font-size:7px;color:#333;text-align:left;">企业入驻</div>
<svg style="position:absolute;left:418px;top:967px" width="6" height="6" viewBox="0 0 6 6"><path d="M0.8 0.8 L5.2 5.2 M5.2 0.8 L0.8 5.2" stroke="#bbb" stroke-width="0.7"/></svg>
<div style="left:441.0px;top:967.0px;width:7.7px;height:6px;background:#4d4850;border-left:1px solid #9a8aa0;border-right:1px solid #8a8aa8"></div>
<div class="t" style="left:451px;top:964.4px;height:11.2px;line-height:11.2px;font-size:7px;color:#333;text-align:left;">活动列表</div>
<svg style="position:absolute;left:483px;top:967px" width="6" height="6" viewBox="0 0 6 6"><path d="M0.8 0.8 L5.2 5.2 M5.2 0.8 L0.8 5.2" stroke="#bbb" stroke-width="0.7"/></svg>
<div style="left:506.0px;top:967.0px;width:7.7px;height:6px;background:#4d4850;border-left:1px solid #9a8aa0;border-right:1px solid #8a8aa8"></div>
<div class="t" style="left:516px;top:964.4px;height:11.2px;line-height:11.2px;font-size:7px;color:#333;text-align:left;">短信群发</div>
<svg style="position:absolute;left:547.8px;top:967px" width="6" height="6" viewBox="0 0 6 6"><path d="M0.8 0.8 L5.2 5.2 M5.2 0.8 L0.8 5.2" stroke="#bbb" stroke-width="0.7"/></svg>
<div style="left:570.7px;top:967.0px;width:7.7px;height:6px;background:#4d4850;border-left:1px solid #9a8aa0;border-right:1px solid #8a8aa8"></div>
<div class="t" style="left:580.7px;top:964.4px;height:11.2px;line-height:11.2px;font-size:7px;color:#333;text-align:left;">系统管理员</div>
<svg style="position:absolute;left:619.9px;top:967px" width="6" height="6" viewBox="0 0 6 6"><path d="M0.8 0.8 L5.2 5.2 M5.2 0.8 L0.8 5.2" stroke="#bbb" stroke-width="0.7"/></svg>
<div style="left:643.3000000000001px;top:967.0px;width:7.7px;height:6px;background:#4d4850;border-left:1px solid #9a8aa0;border-right:1px solid #8a8aa8"></div>
<div class="t" style="left:653.3px;top:964.4px;height:11.2px;line-height:11.2px;font-size:7px;color:#333;text-align:left;">个体用户入驻</div>
<svg style="position:absolute;left:699.6px;top:967px" width="6" height="6" viewBox="0 0 6 6"><path d="M0.8 0.8 L5.2 5.2 M5.2 0.8 L0.8 5.2" stroke="#bbb" stroke-width="0.7"/></svg>
<div style="left:722.7px;top:967.0px;width:7.7px;height:6px;background:#4d4850;border-left:1px solid #9a8aa0;border-right:1px solid #8a8aa8"></div>
<div class="t" style="left:732.7px;top:964.4px;height:11.2px;line-height:11.2px;font-size:7px;color:#333;text-align:left;">朋友圈列表</div>
<svg style="position:absolute;left:771.2px;top:967px" width="6" height="6" viewBox="0 0 6 6"><path d="M0.8 0.8 L5.2 5.2 M5.2 0.8 L0.8 5.2" stroke="#bbb" stroke-width="0.7"/></svg>
<div style="left:794.2px;top:967.0px;width:7.7px;height:6px;background:#4d4850;border-left:1px solid #9a8aa0;border-right:1px solid #8a8aa8"></div>
<div class="t" style="left:804.2px;top:964.4px;height:11.2px;line-height:11.2px;font-size:7px;color:#333;text-align:left;">企业列表</div>
<svg style="position:absolute;left:835.8px;top:967px" width="6" height="6" viewBox="0 0 6 6"><path d="M0.8 0.8 L5.2 5.2 M5.2 0.8 L0.8 5.2" stroke="#bbb" stroke-width="0.7"/></svg>
<div style="left:851px;top:959.2px;width:65.4px;height:20.3px;background:#5FB878"></div>
<div style="left:859.7px;top:967.0px;width:7.7px;height:6px;background:#e8f5ec;border-left:1px solid #9a8aa0;border-right:1px solid #8a8aa8"></div>
<div class="t" style="left:869.7px;top:964.4px;height:11.2px;line-height:11.2px;font-size:7px;color:#fff;text-align:left;">用户列表</div>
<svg style="position:absolute;left:901.5px;top:967px" width="6" height="6" viewBox="0 0 6 6"><path d="M0.8 0.8 L5.2 5.2 M5.2 0.8 L0.8 5.2" stroke="#e0f0e4" stroke-width="0.7"/></svg>
<div class="t" style="left:-82.19999999999999px;top:993.7px;width:300px;height:11.2px;line-height:11.2px;font-size:7px;color:#555;text-align:right;">用户号:</div>
<div style="left:229.5px;top:990px;width:89.9px;height:18.6px;background:#fff;border:1px solid #e6e6e6;border-radius:1.5px"></div>
<div class="t" style="left:235px;top:994.1px;height:10.4px;line-height:10.4px;font-size:6.5px;color:#999;text-align:left;">请输入用户号</div>
<div class="t" style="left:-82.19999999999999px;top:1019.8px;width:300px;height:11.2px;line-height:11.2px;font-size:7px;color:#555;text-align:right;">手机号码:</div>
<div style="left:229.5px;top:1016.3px;width:89.9px;height:18.2px;background:#fff;border:1px solid #e6e6e6;border-radius:1.5px"></div>
<div class="t" style="left:235px;top:1020.2px;height:10.4px;line-height:10.4px;font-size:6.5px;color:#999;text-align:left;">请输入手机号码</div>
<div class="t" style="left:201px;top:993.4px;width:300px;height:11.2px;line-height:11.2px;font-size:7px;color:#555;text-align:right;">昵称:</div>
<div style="left:510.4px;top:989.7px;width:90.5px;height:18.9px;background:#fff;border:1px solid #e6e6e6;border-radius:1.5px"></div>
<div class="t" style="left:516px;top:993.8px;height:10.4px;line-height:10.4px;font-size:6.5px;color:#666;text-align:left;">模糊匹配</div>
<div class="t" style="left:201px;top:1019.8px;width:300px;height:11.2px;line-height:11.2px;font-size:7px;color:#555;text-align:right;">优质男女:</div>
<div style="left:510.4px;top:1016px;width:105.2px;height:18.7px;background:#fff;border:1px solid #e6e6e6;border-radius:1.5px"></div>
<div class="t" style="left:516px;top:1020.2px;height:10.4px;line-height:10.4px;font-size:6.5px;color:#666;text-align:left;">请选择</div>
<div style="left:604.5px;top:1024px;width:0;height:0;border-left:3px solid transparent;border-right:3px solid transparent;border-top:3px solid #c2c2c2"></div>
<div style="left:666.9px;top:1016px;width:44.1px;height:18.7px;background:#009688;border-radius:1.5px"></div>
<svg style="position:absolute;left:675.5px;top:1021px" width="9" height="9" viewBox="0 0 9 9"><circle cx="3.8" cy="3.8" r="2.9" fill="none" stroke="#fff" stroke-width="1.2"/><path d="M5.8 5.8 L8.3 8.3" stroke="#fff" stroke-width="1.4"/></svg>
<div class="t" style="left:687px;top:1019.8px;height:11.2px;line-height:11.2px;font-size:7px;color:#fff;text-align:left;font-weight:bold">搜索</div>
<div style="left:737.6px;top:1016px;width:69.4px;height:18.7px;background:#FFB800;border-radius:1.5px"></div>
<svg style="position:absolute;left:761px;top:1021.5px" width="8" height="7" viewBox="0 0 8 7"><path d="M2 6 Q0 6 0 4.2 Q0 2.6 1.7 2.6 Q2.3 0.4 4.4 0.5 Q6.3 0.7 6.4 2.7 Q8 2.9 8 4.4 Q8 6 6.2 6 Z" fill="#fff"/><path d="M4 2.5 L2.6 4 L3.5 4 L3.5 5.5 L4.5 5.5 L4.5 4 L5.4 4 Z" fill="#FFB800"/></svg>
<div class="t" style="left:770.5px;top:1019.8px;height:11.2px;line-height:11.2px;font-size:7px;color:#fff;text-align:left;">导出</div>
<div class="t" style="left:510.4px;top:1037.8px;height:10.4px;line-height:10.4px;font-size:6.5px;color:#FF5722;text-align:left;">tip:Excel导出的数据跟筛选显示的数据一致,如果全部导出则先把筛选条件置空</div>
<div style="left:105px;top:1060px;width:840px;height:28.4px;background:#f2f2f2"></div>
<div style="left:105px;top:1060px;width:840px;height:1px;background:#ebebeb"></div>
<div style="left:105px;top:1087.8000000000002px;width:840px;height:1px;background:#ebebeb"></div>
<div style="left:105px;top:1115.6000000000001px;width:840px;height:1px;background:#ebebeb"></div>
<div style="left:105px;top:1143.4px;width:840px;height:1px;background:#ebebeb"></div>
<div style="left:105px;top:1171.2000000000003px;width:840px;height:1px;background:#ebebeb"></div>
<div style="left:105px;top:1199.0000000000002px;width:840px;height:1px;background:#ebebeb"></div>
<div style="left:105px;top:1226.8000000000002px;width:840px;height:1px;background:#ebebeb"></div>
<div style="left:105px;top:1254.6000000000001px;width:840px;height:1px;background:#ebebeb"></div>
<div style="left:105px;top:1282.4px;width:840px;height:1px;background:#ebebeb"></div>
<div style="left:105px;top:1310.2000000000003px;width:840px;height:1px;background:#ebebeb"></div>
<div style="left:105px;top:1338.0000000000002px;width:840px;height:1px;background:#ebebeb"></div>
<div style="left:164.6px;top:1060px;width:1px;height:300px;background:#ebebeb"></div>
<div style="left:247.4px;top:1060px;width:1px;height:300px;background:#ebebeb"></div>
<div style="left:330.5px;top:1060px;width:1px;height:300px;background:#ebebeb"></div>
<div style="left:414.2px;top:1060px;width:1px;height:300px;background:#ebebeb"></div>
<div style="left:496.3px;top:1060px;width:1px;height:300px;background:#ebebeb"></div>
<div style="left:579px;top:1060px;width:1px;height:300px;background:#ebebeb"></div>
<div style="left:661.9px;top:1060px;width:1px;height:300px;background:#ebebeb"></div>
<div style="left:744.6px;top:1060px;width:1px;height:300px;background:#ebebeb"></div>
<div style="left:827.7px;top:1060px;width:1px;height:300px;background:#ebebeb"></div>
<div class="t" style="left:112px;top:1068.6px;height:11.2px;line-height:11.2px;font-size:7px;color:#666;text-align:left;">用户号</div>
<div class="t" style="left:171.6px;top:1068.6px;height:11.2px;line-height:11.2px;font-size:7px;color:#666;text-align:left;">昵称</div>
<div class="t" style="left:254.4px;top:1068.6px;height:11.2px;line-height:11.2px;font-size:7px;color:#666;text-align:left;">用户类型</div>
<div class="t" style="left:337.5px;top:1068.6px;height:11.2px;line-height:11.2px;font-size:7px;color:#666;text-align:left;">性别</div>
<div class="t" style="left:421.2px;top:1068.6px;height:11.2px;line-height:11.2px;font-size:7px;color:#666;text-align:left;">手机号码</div>
<div class="t" style="left:503.3px;top:1068.6px;height:11.2px;line-height:11.2px;font-size:7px;color:#666;text-align:left;">用户状态</div>
<div class="t" style="left:586px;top:1068.6px;height:11.2px;line-height:11.2px;font-size:7px;color:#666;text-align:left;">优质男女</div>
<div class="t" style="left:668.9px;top:1068.6px;height:11.2px;line-height:11.2px;font-size:7px;color:#666;text-align:left;">最近登陆时间</div>
<div class="t" style="left:751.6px;top:1068.6px;height:11.2px;line-height:11.2px;font-size:7px;color:#666;text-align:left;">注册时间</div>
<div class="t" style="left:834.7px;top:1068.6px;height:11.2px;line-height:11.2px;font-size:7px;color:#666;text-align:left;">操作</div>
<div class="t" style="left:112px;top:1096.2px;height:11.2px;line-height:11.2px;font-size:7px;color:#666;text-align:left;">3200322</div>
<div class="t" style="left:171.6px;top:1096.2px;height:11.2px;line-height:11.2px;font-size:7px;color:#666;text-align:left;">momo</div>
<div class="t" style="left:254.4px;top:1096.2px;height:11.2px;line-height:11.2px;font-size:7px;color:#666;text-align:left;">个体用户</div>
<div class="t" style="left:337.5px;top:1096.2px;height:11.2px;line-height:11.2px;font-size:7px;color:#666;text-align:left;">男</div>
<div class="t" style="left:669.4px;top:1096.2px;height:11.2px;line-height:11.2px;font-size:7px;color:#666;text-align:left;">2021-02-05 22:29</div>
<div class="t" style="left:752.1px;top:1096.2px;height:11.2px;line-height:11.2px;font-size:7px;color:#666;text-align:left;">2021-02-05 22:29</div>
<div style="left:503.9px;top:1096.3px;width:30.8px;height:11.8px;background:#5FB878;border-radius:6px"></div>
<div class="t" style="left:508.5px;top:1097.24px;height:9.92px;line-height:9.92px;font-size:6.2px;color:#fff;text-align:left;font-weight:bold">正常</div>
<div style="left:523.3px;top:1098.20px;width:8px;height:8px;border-radius:50%;background:#fff"></div>
<div style="left:586.4px;top:1096.2px;width:23.6px;height:12px;background:#fff;border:1px solid #d9d9d9;border-radius:6px"></div>
<div style="left:589.7px;top:1098.20px;width:8px;height:8px;border-radius:50%;background:#d2d2d2"></div>
<div class="t" style="left:600px;top:1097.4px;height:9.6px;line-height:9.6px;font-size:6px;color:#999;text-align:left;">否</div>
<div style="left:835.2px;top:1094.45px;width:26.5px;height:14.7px;background:#009688;border-radius:1.5px"></div>
<svg style="position:absolute;left:839.5px;top:1097.60px" width="4" height="8" viewBox="0 0 4 8"><circle cx="2" cy="1.1" r="1" fill="#fff"/><path d="M0.6 3 L2.8 3 L2.8 7 L3.6 7 L3.6 8 L0.4 8 L0.4 7 L1.3 7 L1.3 4 L0.6 4 Z" fill="#fff"/></svg>
<div class="t" style="left:844px;top:1096.6px;height:10.4px;line-height:10.4px;font-size:6.5px;color:#fff;text-align:left;font-weight:bold">详情</div>
<div class="t" style="left:112px;top:1124.0px;height:11.2px;line-height:11.2px;font-size:7px;color:#666;text-align:left;">3200321</div>
<div class="t" style="left:171.6px;top:1124.0px;height:11.2px;line-height:11.2px;font-size:7px;color:#666;text-align:left;">马秀琴</div>
<div class="t" style="left:254.4px;top:1124.0px;height:11.2px;line-height:11.2px;font-size:7px;color:#666;text-align:left;">个体用户</div>
<div class="t" style="left:337.5px;top:1124.0px;height:11.2px;line-height:11.2px;font-size:7px;color:#666;text-align:left;">女</div>
<div class="t" style="left:669.4px;top:1124.0px;height:11.2px;line-height:11.2px;font-size:7px;color:#666;text-align:left;">2021-02-04 04:22</div>
<div class="t" style="left:752.1px;top:1124.0px;height:11.2px;line-height:11.2px;font-size:7px;color:#666;text-align:left;">2021-02-04 04:22</div>
<div style="left:503.9px;top:1124.1px;width:30.8px;height:11.8px;background:#5FB878;border-radius:6px"></div>
<div class="t" style="left:508.5px;top:1125.04px;height:9.92px;line-height:9.92px;font-size:6.2px;color:#fff;text-align:left;font-weight:bold">正常</div>
<div style="left:523.3px;top:1126.00px;width:8px;height:8px;border-radius:50%;background:#fff"></div>
<div style="left:586.4px;top:1124.0px;width:23.6px;height:12px;background:#fff;border:1px solid #d9d9d9;border-radius:6px"></div>
<div style="left:589.7px;top:1126.00px;width:8px;height:8px;border-radius:50%;background:#d2d2d2"></div>
<div class="t" style="left:600px;top:1125.2px;height:9.6px;line-height:9.6px;font-size:6px;color:#999;text-align:left;">否</div>
<div style="left:835.2px;top:1122.25px;width:26.5px;height:14.7px;background:#009688;border-radius:1.5px"></div>
<svg style="position:absolute;left:839.5px;top:1125.40px" width="4" height="8" viewBox="0 0 4 8"><circle cx="2" cy="1.1" r="1" fill="#fff"/><path d="M0.6 3 L2.8 3 L2.8 7 L3.6 7 L3.6 8 L0.4 8 L0.4 7 L1.3 7 L1.3 4 L0.6 4 Z" fill="#fff"/></svg>
<div class="t" style="left:844px;top:1124.4px;height:10.4px;line-height:10.4px;font-size:6.5px;color:#fff;text-align:left;font-weight:bold">详情</div>
<div class="t" style="left:112px;top:1151.8px;height:11.2px;line-height:11.2px;font-size:7px;color:#666;text-align:left;">3200320</div>
<div class="t" style="left:171.6px;top:1151.8px;height:11.2px;line-height:11.2px;font-size:7px;color:#666;text-align:left;">李骏元</div>
<div class="t" style="left:254.4px;top:1151.8px;height:11.2px;line-height:11.2px;font-size:7px;color:#666;text-align:left;">个体用户</div>
<div class="t" style="left:337.5px;top:1151.8px;height:11.2px;line-height:11.2px;font-size:7px;color:#666;text-align:left;">女</div>
<div class="t" style="left:669.4px;top:1151.8px;height:11.2px;line-height:11.2px;font-size:7px;color:#666;text-align:left;">2021-01-28 00:58</div>
<div class="t" style="left:752.1px;top:1151.8px;height:11.2px;line-height:11.2px;font-size:7px;color:#666;text-align:left;">2021-01-28 00:58</div>
<div style="left:503.9px;top:1151.8999999999999px;width:30.8px;height:11.8px;background:#5FB878;border-radius:6px"></div>
<div class="t" style="left:508.5px;top:1152.84px;height:9.92px;line-height:9.92px;font-size:6.2px;color:#fff;text-align:left;font-weight:bold">正常</div>
<div style="left:523.3px;top:1153.80px;width:8px;height:8px;border-radius:50%;background:#fff"></div>
<div style="left:586.4px;top:1151.8px;width:23.6px;height:12px;background:#fff;border:1px solid #d9d9d9;border-radius:6px"></div>
<div style="left:589.7px;top:1153.80px;width:8px;height:8px;border-radius:50%;background:#d2d2d2"></div>
<div class="t" style="left:600px;top:1153.0px;height:9.6px;line-height:9.6px;font-size:6px;color:#999;text-align:left;">否</div>
<div style="left:835.2px;top:1150.05px;width:26.5px;height:14.7px;background:#009688;border-radius:1.5px"></div>
<svg style="position:absolute;left:839.5px;top:1153.20px" width="4" height="8" viewBox="0 0 4 8"><circle cx="2" cy="1.1" r="1" fill="#fff"/><path d="M0.6 3 L2.8 3 L2.8 7 L3.6 7 L3.6 8 L0.4 8 L0.4 7 L1.3 7 L1.3 4 L0.6 4 Z" fill="#fff"/></svg>
<div class="t" style="left:844px;top:1152.2px;height:10.4px;line-height:10.4px;font-size:6.5px;color:#fff;text-align:left;font-weight:bold">详情</div>
<div class="t" style="left:112px;top:1179.6px;height:11.2px;line-height:11.2px;font-size:7px;color:#666;text-align:left;">3200319</div>
<div class="t" style="left:171.6px;top:1179.6px;height:11.2px;line-height:11.2px;font-size:7px;color:#666;text-align:left;">静静子</div>
<div class="t" style="left:254.4px;top:1179.6px;height:11.2px;line-height:11.2px;font-size:7px;color:#666;text-align:left;">个体用户</div>
<div class="t" style="left:337.5px;top:1179.6px;height:11.2px;line-height:11.2px;font-size:7px;color:#666;text-align:left;">女</div>
<div class="t" style="left:669.4px;top:1179.6px;height:11.2px;line-height:11.2px;font-size:7px;color:#666;text-align:left;">2021-01-25 17:28</div>
<div class="t" style="left:752.1px;top:1179.6px;height:11.2px;line-height:11.2px;font-size:7px;color:#666;text-align:left;">2021-01-25 17:28</div>
<div style="left:503.9px;top:1179.7px;width:30.8px;height:11.8px;background:#5FB878;border-radius:6px"></div>
<div class="t" style="left:508.5px;top:1180.64px;height:9.92px;line-height:9.92px;font-size:6.2px;color:#fff;text-align:left;font-weight:bold">正常</div>
<div style="left:523.3px;top:1181.60px;width:8px;height:8px;border-radius:50%;background:#fff"></div>
<div style="left:586.4px;top:1179.6000000000001px;width:23.6px;height:12px;background:#fff;border:1px solid #d9d9d9;border-radius:6px"></div>
<div style="left:589.7px;top:1181.60px;width:8px;height:8px;border-radius:50%;background:#d2d2d2"></div>
<div class="t" style="left:600px;top:1180.8px;height:9.6px;line-height:9.6px;font-size:6px;color:#999;text-align:left;">否</div>
<div style="left:835.2px;top:1177.8500000000001px;width:26.5px;height:14.7px;background:#009688;border-radius:1.5px"></div>
<svg style="position:absolute;left:839.5px;top:1181.00px" width="4" height="8" viewBox="0 0 4 8"><circle cx="2" cy="1.1" r="1" fill="#fff"/><path d="M0.6 3 L2.8 3 L2.8 7 L3.6 7 L3.6 8 L0.4 8 L0.4 7 L1.3 7 L1.3 4 L0.6 4 Z" fill="#fff"/></svg>
<div class="t" style="left:844px;top:1180.0px;height:10.4px;line-height:10.4px;font-size:6.5px;color:#fff;text-align:left;font-weight:bold">详情</div>
<div class="t" style="left:112px;top:1207.4px;height:11.2px;line-height:11.2px;font-size:7px;color:#666;text-align:left;">3200318</div>
<div class="t" style="left:171.6px;top:1207.4px;height:11.2px;line-height:11.2px;font-size:7px;color:#666;text-align:left;">廖俊谚</div>
<div class="t" style="left:254.4px;top:1207.4px;height:11.2px;line-height:11.2px;font-size:7px;color:#666;text-align:left;">个体用户</div>
<div class="t" style="left:337.5px;top:1207.4px;height:11.2px;line-height:11.2px;font-size:7px;color:#666;text-align:left;">女</div>
<div class="t" style="left:669.4px;top:1207.4px;height:11.2px;line-height:11.2px;font-size:7px;color:#666;text-align:left;">2021-01-21 13:01</div>
<div class="t" style="left:752.1px;top:1207.4px;height:11.2px;line-height:11.2px;font-size:7px;color:#666;text-align:left;">2021-01-21 13:01</div>
<div style="left:503.9px;top:1207.5px;width:30.8px;height:11.8px;background:#5FB878;border-radius:6px"></div>
<div class="t" style="left:508.5px;top:1208.44px;height:9.92px;line-height:9.92px;font-size:6.2px;color:#fff;text-align:left;font-weight:bold">正常</div>
<div style="left:523.3px;top:1209.40px;width:8px;height:8px;border-radius:50%;background:#fff"></div>
<div style="left:586.4px;top:1207.4px;width:23.6px;height:12px;background:#fff;border:1px solid #d9d9d9;border-radius:6px"></div>
<div style="left:589.7px;top:1209.40px;width:8px;height:8px;border-radius:50%;background:#d2d2d2"></div>
<div class="t" style="left:600px;top:1208.6px;height:9.6px;line-height:9.6px;font-size:6px;color:#999;text-align:left;">否</div>
<div style="left:835.2px;top:1205.65px;width:26.5px;height:14.7px;background:#009688;border-radius:1.5px"></div>
<svg style="position:absolute;left:839.5px;top:1208.80px" width="4" height="8" viewBox="0 0 4 8"><circle cx="2" cy="1.1" r="1" fill="#fff"/><path d="M0.6 3 L2.8 3 L2.8 7 L3.6 7 L3.6 8 L0.4 8 L0.4 7 L1.3 7 L1.3 4 L0.6 4 Z" fill="#fff"/></svg>
<div class="t" style="left:844px;top:1207.8px;height:10.4px;line-height:10.4px;font-size:6.5px;color:#fff;text-align:left;font-weight:bold">详情</div>
<div class="t" style="left:112px;top:1235.2px;height:11.2px;line-height:11.2px;font-size:7px;color:#666;text-align:left;">3200317</div>
<div class="t" style="left:171.6px;top:1235.2px;height:11.2px;line-height:11.2px;font-size:7px;color:#666;text-align:left;">Bassie?</div>
<div class="t" style="left:254.4px;top:1235.2px;height:11.2px;line-height:11.2px;font-size:7px;color:#666;text-align:left;">个体用户</div>
<div class="t" style="left:337.5px;top:1235.2px;height:11.2px;line-height:11.2px;font-size:7px;color:#666;text-align:left;">女</div>
<div class="t" style="left:669.4px;top:1235.2px;height:11.2px;line-height:11.2px;font-size:7px;color:#666;text-align:left;">2021-01-21 12:07</div>
<div class="t" style="left:752.1px;top:1235.2px;height:11.2px;line-height:11.2px;font-size:7px;color:#666;text-align:left;">2021-01-21 12:07</div>
<div style="left:503.9px;top:1235.3px;width:30.8px;height:11.8px;background:#5FB878;border-radius:6px"></div>
<div class="t" style="left:508.5px;top:1236.24px;height:9.92px;line-height:9.92px;font-size:6.2px;color:#fff;text-align:left;font-weight:bold">正常</div>
<div style="left:523.3px;top:1237.20px;width:8px;height:8px;border-radius:50%;background:#fff"></div>
<div style="left:586.4px;top:1235.2px;width:23.6px;height:12px;background:#fff;border:1px solid #d9d9d9;border-radius:6px"></div>
<div style="left:589.7px;top:1237.20px;width:8px;height:8px;border-radius:50%;background:#d2d2d2"></div>
<div class="t" style="left:600px;top:1236.4px;height:9.6px;line-height:9.6px;font-size:6px;color:#999;text-align:left;">否</div>
<div style="left:835.2px;top:1233.45px;width:26.5px;height:14.7px;background:#009688;border-radius:1.5px"></div>
<svg style="position:absolute;left:839.5px;top:1236.60px" width="4" height="8" viewBox="0 0 4 8"><circle cx="2" cy="1.1" r="1" fill="#fff"/><path d="M0.6 3 L2.8 3 L2.8 7 L3.6 7 L3.6 8 L0.4 8 L0.4 7 L1.3 7 L1.3 4 L0.6 4 Z" fill="#fff"/></svg>
<div class="t" style="left:844px;top:1235.6px;height:10.4px;line-height:10.4px;font-size:6.5px;color:#fff;text-align:left;font-weight:bold">详情</div>
<div class="t" style="left:112px;top:1263.0px;height:11.2px;line-height:11.2px;font-size:7px;color:#666;text-align:left;">3200316</div>
<div class="t" style="left:171.6px;top:1263.0px;height:11.2px;line-height:11.2px;font-size:7px;color:#666;text-align:left;">金沙牛</div>
<div class="t" style="left:254.4px;top:1263.0px;height:11.2px;line-height:11.2px;font-size:7px;color:#666;text-align:left;">个体用户</div>
<div class="t" style="left:337.5px;top:1263.0px;height:11.2px;line-height:11.2px;font-size:7px;color:#666;text-align:left;">男</div>
<div class="t" style="left:669.4px;top:1263.0px;height:11.2px;line-height:11.2px;font-size:7px;color:#666;text-align:left;">2021-01-21 12:04</div>
<div class="t" style="left:752.1px;top:1263.0px;height:11.2px;line-height:11.2px;font-size:7px;color:#666;text-align:left;">2021-01-21 12:04</div>
<div style="left:503.9px;top:1263.1px;width:30.8px;height:11.8px;background:#5FB878;border-radius:6px"></div>
<div class="t" style="left:508.5px;top:1264.04px;height:9.92px;line-height:9.92px;font-size:6.2px;color:#fff;text-align:left;font-weight:bold">正常</div>
<div style="left:523.3px;top:1265.00px;width:8px;height:8px;border-radius:50%;background:#fff"></div>
<div style="left:586.4px;top:1263.0px;width:23.6px;height:12px;background:#fff;border:1px solid #d9d9d9;border-radius:6px"></div>
<div style="left:589.7px;top:1265.00px;width:8px;height:8px;border-radius:50%;background:#d2d2d2"></div>
<div class="t" style="left:600px;top:1264.2px;height:9.6px;line-height:9.6px;font-size:6px;color:#999;text-align:left;">否</div>
<div style="left:835.2px;top:1261.25px;width:26.5px;height:14.7px;background:#009688;border-radius:1.5px"></div>
<svg style="position:absolute;left:839.5px;top:1264.40px" width="4" height="8" viewBox="0 0 4 8"><circle cx="2" cy="1.1" r="1" fill="#fff"/><path d="M0.6 3 L2.8 3 L2.8 7 L3.6 7 L3.6 8 L0.4 8 L0.4 7 L1.3 7 L1.3 4 L0.6 4 Z" fill="#fff"/></svg>
<div class="t" style="left:844px;top:1263.4px;height:10.4px;line-height:10.4px;font-size:6.5px;color:#fff;text-align:left;font-weight:bold">详情</div>
<div class="t" style="left:112px;top:1290.8px;height:11.2px;line-height:11.2px;font-size:7px;color:#666;text-align:left;">3200315</div>
<div class="t" style="left:171.6px;top:1290.8px;height:11.2px;line-height:11.2px;font-size:7px;color:#666;text-align:left;">just</div>
<div class="t" style="left:254.4px;top:1290.8px;height:11.2px;line-height:11.2px;font-size:7px;color:#666;text-align:left;">个体用户</div>
<div class="t" style="left:337.5px;top:1290.8px;height:11.2px;line-height:11.2px;font-size:7px;color:#666;text-align:left;">男</div>
<div class="t" style="left:669.4px;top:1290.8px;height:11.2px;line-height:11.2px;font-size:7px;color:#666;text-align:left;">2021-01-20 20:13</div>
<div class="t" style="left:752.1px;top:1290.8px;height:11.2px;line-height:11.2px;font-size:7px;color:#666;text-align:left;">2021-01-20 20:13</div>
<div style="left:503.9px;top:1290.8999999999999px;width:30.8px;height:11.8px;background:#5FB878;border-radius:6px"></div>
<div class="t" style="left:508.5px;top:1291.84px;height:9.92px;line-height:9.92px;font-size:6.2px;color:#fff;text-align:left;font-weight:bold">正常</div>
<div style="left:523.3px;top:1292.80px;width:8px;height:8px;border-radius:50%;background:#fff"></div>
<div style="left:586.4px;top:1290.8px;width:23.6px;height:12px;background:#fff;border:1px solid #d9d9d9;border-radius:6px"></div>
<div style="left:589.7px;top:1292.80px;width:8px;height:8px;border-radius:50%;background:#d2d2d2"></div>
<div class="t" style="left:600px;top:1292.0px;height:9.6px;line-height:9.6px;font-size:6px;color:#999;text-align:left;">否</div>
<div style="left:835.2px;top:1289.05px;width:26.5px;height:14.7px;background:#009688;border-radius:1.5px"></div>
<svg style="position:absolute;left:839.5px;top:1292.20px" width="4" height="8" viewBox="0 0 4 8"><circle cx="2" cy="1.1" r="1" fill="#fff"/><path d="M0.6 3 L2.8 3 L2.8 7 L3.6 7 L3.6 8 L0.4 8 L0.4 7 L1.3 7 L1.3 4 L0.6 4 Z" fill="#fff"/></svg>
<div class="t" style="left:844px;top:1291.2px;height:10.4px;line-height:10.4px;font-size:6.5px;color:#fff;text-align:left;font-weight:bold">详情</div>
<div class="t" style="left:112px;top:1318.6px;height:11.2px;line-height:11.2px;font-size:7px;color:#666;text-align:left;">3200314</div>
<div class="t" style="left:171.6px;top:1318.6px;height:11.2px;line-height:11.2px;font-size:7px;color:#666;text-align:left;">LZZ_</div>
<div class="t" style="left:254.4px;top:1318.6px;height:11.2px;line-height:11.2px;font-size:7px;color:#666;text-align:left;">个体用户</div>
<div class="t" style="left:337.5px;top:1318.6px;height:11.2px;line-height:11.2px;font-size:7px;color:#666;text-align:left;">男</div>
<div class="t" style="left:669.4px;top:1318.6px;height:11.2px;line-height:11.2px;font-size:7px;color:#666;text-align:left;">2021-01-14 15:42</div>
<div class="t" style="left:752.1px;top:1318.6px;height:11.2px;line-height:11.2px;font-size:7px;color:#666;text-align:left;">2021-01-14 15:42</div>
<div style="left:503.9px;top:1318.7px;width:30.8px;height:11.8px;background:#5FB878;border-radius:6px"></div>
<div class="t" style="left:508.5px;top:1319.64px;height:9.92px;line-height:9.92px;font-size:6.2px;color:#fff;text-align:left;font-weight:bold">正常</div>
<div style="left:523.3px;top:1320.60px;width:8px;height:8px;border-radius:50%;background:#fff"></div>
<div style="left:586.4px;top:1318.6000000000001px;width:23.6px;height:12px;background:#fff;border:1px solid #d9d9d9;border-radius:6px"></div>
<div style="left:589.7px;top:1320.60px;width:8px;height:8px;border-radius:50%;background:#d2d2d2"></div>
<div class="t" style="left:600px;top:1319.8px;height:9.6px;line-height:9.6px;font-size:6px;color:#999;text-align:left;">否</div>
<div style="left:835.2px;top:1316.8500000000001px;width:26.5px;height:14.7px;background:#009688;border-radius:1.5px"></div>
<svg style="position:absolute;left:839.5px;top:1320.00px" width="4" height="8" viewBox="0 0 4 8"><circle cx="2" cy="1.1" r="1" fill="#fff"/><path d="M0.6 3 L2.8 3 L2.8 7 L3.6 7 L3.6 8 L0.4 8 L0.4 7 L1.3 7 L1.3 4 L0.6 4 Z" fill="#fff"/></svg>
<div class="t" style="left:844px;top:1319.0px;height:10.4px;line-height:10.4px;font-size:6.5px;color:#fff;text-align:left;font-weight:bold">详情</div>
<div style="left:503.9px;top:1346.5px;width:30.8px;height:11.8px;background:#5FB878;border-radius:6px"></div>
<div class="t" style="left:508.5px;top:1347.44px;height:9.92px;line-height:9.92px;font-size:6.2px;color:#fff;text-align:left;font-weight:bold">正常</div>
<div style="left:523.3px;top:1348.40px;width:8px;height:8px;border-radius:50%;background:#fff"></div>
<div style="left:586.4px;top:1346.4px;width:23.6px;height:12px;background:#fff;border:1px solid #d9d9d9;border-radius:6px"></div>
<div style="left:589.7px;top:1348.40px;width:8px;height:8px;border-radius:50%;background:#d2d2d2"></div>
<div class="t" style="left:600px;top:1347.6px;height:9.6px;line-height:9.6px;font-size:6px;color:#999;text-align:left;">否</div>
<div style="left:835.2px;top:1344.65px;width:26.5px;height:14.7px;background:#009688;border-radius:1.5px"></div>
<svg style="position:absolute;left:839.5px;top:1347.80px" width="4" height="8" viewBox="0 0 4 8"><circle cx="2" cy="1.1" r="1" fill="#fff"/><path d="M0.6 3 L2.8 3 L2.8 7 L3.6 7 L3.6 8 L0.4 8 L0.4 7 L1.3 7 L1.3 4 L0.6 4 Z" fill="#fff"/></svg>
<div class="t" style="left:844px;top:1346.8px;height:10.4px;line-height:10.4px;font-size:6.5px;color:#fff;text-align:left;font-weight:bold">详情</div>
<div style="left:104px;top:1346px;width:841px;height:20px;background:#eeeeee"></div>
<div class="t" style="left:503.7px;top:1349.8px;height:10.4px;line-height:10.4px;font-size:6.5px;color:#666;text-align:left;">2019 © 青缘福田</div>
<div style="left:5px;top:1353.5px;width:34.5px;height:12px;background:#eceef2;border:1px solid #d8dbe2;border-radius:0 3px 0 0"></div>
<div class="t" style="left:5.5px;top:1353.1px;height:10.4px;line-height:10.4px;font-size:6.5px;color:#666;text-align:left;">javascript:</div>
</div></div>
</body></html>
